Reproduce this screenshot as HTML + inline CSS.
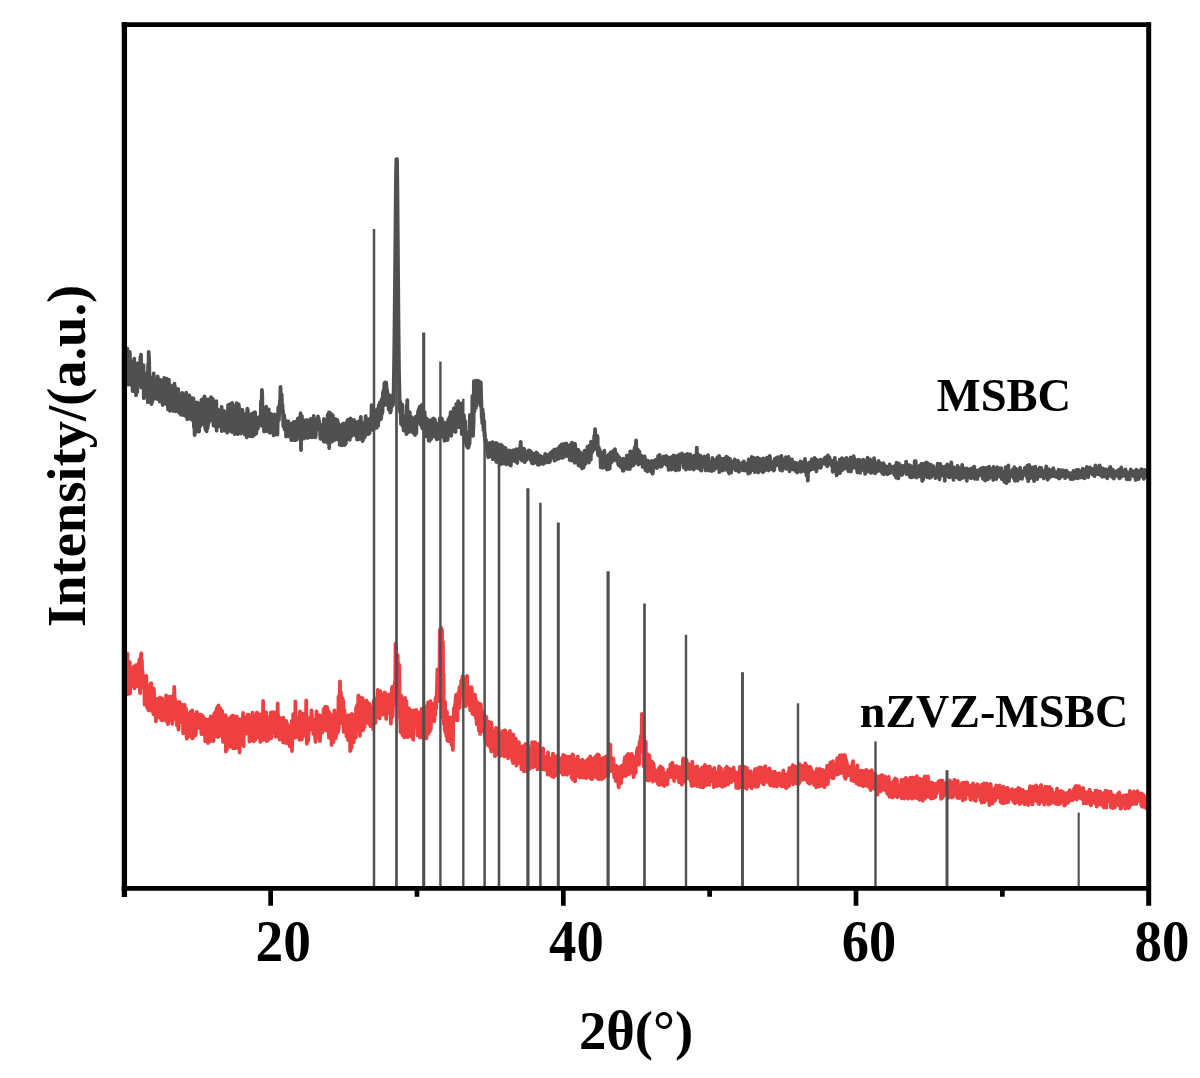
<!DOCTYPE html>
<html lang="en"><head><meta charset="utf-8"><title>XRD patterns of MSBC and nZVZ-MSBC</title>
<style>html,body{margin:0;padding:0;background:#fff}svg{display:block}</style></head>
<body>
<svg width="1200" height="1078" viewBox="0 0 1200 1078">
<rect width="1200" height="1078" fill="#fff"/>
<polyline fill="none" stroke="#ee4040" stroke-width="3.8" stroke-linejoin="round" stroke-linecap="round" points="125.8,655.3 126.1,656.0 126.4,691.7 126.7,692.4 127.0,671.1 127.4,653.7 127.7,694.0 128.0,666.7 128.3,678.4 128.6,681.7 128.9,693.4 129.2,684.2 129.5,681.2 129.8,662.2 130.1,693.5 130.5,673.6 130.8,683.4 131.1,682.7 131.4,685.0 131.7,669.4 132.0,668.8 132.3,678.5 132.6,686.1 132.9,674.7 133.2,670.6 133.6,670.8 133.9,666.5 134.2,684.6 134.5,688.4 134.8,678.9 135.1,668.4 135.4,675.2 135.7,678.6 136.0,665.2 136.3,670.2 136.7,677.0 137.0,686.0 137.3,666.2 137.6,673.3 137.9,681.8 138.2,664.2 138.5,682.5 138.8,663.2 139.1,666.3 139.4,659.5 139.8,689.1 140.1,693.1 140.4,673.6 140.7,665.2 141.0,654.6 141.3,653.4 141.6,687.4 141.9,660.4 142.2,678.0 142.5,671.1 142.9,676.0 143.2,683.8 143.5,687.5 143.8,685.3 144.1,676.7 144.4,694.0 144.7,704.6 145.0,693.5 145.3,679.4 145.6,700.4 146.0,686.6 146.3,675.9 146.6,702.4 146.9,695.7 147.2,707.8 147.5,690.9 147.8,695.0 148.1,694.0 148.4,710.0 148.7,693.1 149.1,693.0 149.4,696.3 149.7,710.5 150.0,709.0 150.3,684.0 150.6,689.8 150.9,699.6 151.2,683.2 151.5,699.4 151.8,709.9 152.2,710.9 152.5,691.7 152.8,693.2 153.1,711.6 153.4,714.3 153.7,688.5 154.0,691.5 154.3,700.6 154.6,704.7 154.9,710.7 155.3,705.6 155.6,699.7 155.9,721.3 156.2,702.7 156.5,707.4 156.8,698.8 157.1,717.6 157.4,700.2 157.7,705.5 158.0,704.3 158.4,716.5 158.7,705.1 159.0,711.2 159.3,701.2 159.6,717.1 159.9,697.5 160.2,699.3 160.5,716.2 160.8,706.6 161.1,719.8 161.5,707.0 161.8,709.5 162.1,698.5 162.4,720.4 162.7,715.1 163.0,715.7 163.3,704.1 163.6,709.4 163.9,706.8 164.2,710.2 164.6,712.5 164.9,707.4 165.2,719.9 165.5,705.8 165.8,710.3 166.1,695.4 166.4,709.5 166.7,697.8 167.0,721.8 167.3,718.8 167.7,706.5 168.0,724.2 168.3,718.6 168.6,697.0 168.9,711.0 169.2,704.8 169.5,712.0 169.8,714.1 170.1,714.5 170.4,703.5 170.8,696.4 171.1,717.8 171.4,698.2 171.7,713.2 172.0,720.4 172.3,723.9 172.6,714.1 172.9,698.8 173.2,719.4 173.5,700.0 173.9,714.1 174.2,686.8 174.5,696.1 174.8,708.1 175.1,699.3 175.4,715.9 175.7,718.2 176.0,705.5 176.3,717.1 176.6,714.8 177.0,725.7 177.3,704.4 177.6,702.3 177.9,708.3 178.2,712.5 178.5,729.7 178.8,721.5 179.1,714.6 179.4,702.0 179.7,716.6 180.1,720.7 180.4,708.4 180.7,708.3 181.0,721.8 181.3,706.5 181.6,716.2 181.9,714.9 182.2,704.6 182.5,713.9 182.8,710.0 183.2,733.3 183.5,726.2 183.8,718.8 184.1,706.3 184.4,720.2 184.7,704.9 185.0,726.6 185.3,712.8 185.6,718.3 185.9,708.5 186.3,715.3 186.6,736.8 186.9,738.7 187.2,735.4 187.5,727.1 187.8,720.9 188.1,730.5 188.4,723.7 188.7,716.3 189.0,714.1 189.4,719.1 189.7,720.0 190.0,731.6 190.3,712.0 190.6,736.7 190.9,731.2 191.2,721.7 191.5,717.0 191.8,729.3 192.1,710.5 192.5,738.4 192.8,713.2 193.1,731.6 193.4,737.1 193.7,735.0 194.0,714.8 194.3,725.2 194.6,721.8 194.9,733.9 195.2,730.4 195.6,735.2 195.9,730.9 196.2,723.6 196.5,720.3 196.8,711.8 197.1,713.6 197.4,714.2 197.7,713.7 198.0,728.2 198.3,726.4 198.7,719.0 199.0,721.1 199.3,715.4 199.6,719.8 199.9,720.3 200.2,718.7 200.5,714.7 200.8,719.7 201.1,721.4 201.4,734.0 201.8,729.4 202.1,715.5 202.4,734.1 202.7,724.5 203.0,721.1 203.3,716.8 203.6,733.5 203.9,726.9 204.2,732.0 204.5,727.7 204.9,718.8 205.2,741.3 205.5,732.6 205.8,740.6 206.1,719.3 206.4,719.7 206.7,728.5 207.0,724.2 207.3,728.7 207.6,720.5 208.0,743.0 208.3,729.9 208.6,734.1 208.9,740.7 209.2,719.3 209.5,728.7 209.8,735.7 210.1,741.3 210.4,721.1 210.7,716.3 211.1,725.0 211.4,719.3 211.7,717.5 212.0,717.4 212.3,735.4 212.6,727.4 212.9,718.5 213.2,730.6 213.5,741.2 213.8,735.4 214.2,713.7 214.5,723.7 214.8,712.9 215.1,717.6 215.4,715.1 215.7,711.4 216.0,732.9 216.3,736.1 216.6,724.5 216.9,708.1 217.3,709.8 217.6,706.9 217.9,737.0 218.2,719.1 218.5,705.5 218.8,728.0 219.1,713.2 219.4,735.9 219.7,711.5 220.0,708.0 220.4,709.1 220.7,711.2 221.0,735.0 221.3,734.1 221.6,730.6 221.9,710.7 222.2,711.4 222.5,727.1 222.8,732.4 223.1,741.9 223.5,726.0 223.8,720.1 224.1,725.8 224.4,734.9 224.7,726.2 225.0,722.2 225.3,730.4 225.6,715.1 225.9,751.6 226.2,719.7 226.6,744.8 226.9,749.9 227.2,718.1 227.5,739.3 227.8,723.7 228.1,742.9 228.4,722.4 228.7,738.1 229.0,737.6 229.3,734.8 229.7,729.4 230.0,746.8 230.3,722.5 230.6,737.8 230.9,717.0 231.2,723.6 231.5,743.7 231.8,717.9 232.1,743.8 232.4,715.6 232.8,722.8 233.1,748.2 233.4,716.0 233.7,731.0 234.0,723.5 234.3,741.1 234.6,717.9 234.9,717.9 235.2,730.2 235.5,748.1 235.9,719.5 236.2,729.3 236.5,718.9 236.8,716.4 237.1,737.6 237.4,747.7 237.7,735.5 238.0,733.0 238.3,726.0 238.6,739.7 239.0,740.2 239.3,741.4 239.6,752.4 239.9,719.1 240.2,732.8 240.5,722.2 240.8,721.1 241.1,741.5 241.4,731.9 241.7,729.0 242.1,742.7 242.4,723.2 242.7,738.3 243.0,713.0 243.3,723.5 243.6,746.0 243.9,716.8 244.2,723.0 244.5,728.5 244.8,723.1 245.2,732.6 245.5,723.2 245.8,733.8 246.1,726.5 246.4,724.1 246.7,718.9 247.0,730.1 247.3,729.0 247.6,714.7 247.9,718.0 248.3,725.0 248.6,714.7 248.9,718.1 249.2,730.9 249.5,741.7 249.8,728.7 250.1,734.9 250.4,726.8 250.7,724.0 251.0,720.2 251.4,717.8 251.7,740.0 252.0,738.6 252.3,719.7 252.6,712.6 252.9,722.5 253.2,715.5 253.5,725.2 253.8,741.3 254.1,718.9 254.5,726.9 254.8,725.8 255.1,715.8 255.4,739.8 255.7,737.0 256.0,717.5 256.3,735.1 256.6,727.3 256.9,712.5 257.2,731.7 257.6,737.2 257.9,728.9 258.2,717.1 258.5,727.9 258.8,731.4 259.1,714.5 259.4,720.7 259.7,723.6 260.0,722.6 260.3,741.9 260.7,729.0 261.0,725.7 261.3,714.1 261.6,740.5 261.9,729.8 262.2,722.9 262.5,730.8 262.8,739.9 263.1,701.0 263.4,729.2 263.8,716.6 264.1,717.8 264.4,712.3 264.7,712.0 265.0,721.9 265.3,716.3 265.6,723.3 265.9,716.2 266.2,712.5 266.5,741.0 266.9,740.5 267.2,740.7 267.5,735.5 267.8,721.3 268.1,733.3 268.4,739.9 268.7,738.4 269.0,731.4 269.3,717.0 269.6,728.5 270.0,720.2 270.3,738.0 270.6,722.4 270.9,712.5 271.2,730.1 271.5,738.2 271.8,730.6 272.1,718.0 272.4,718.2 272.7,714.2 273.1,726.3 273.4,712.2 273.7,732.3 274.0,723.8 274.3,722.8 274.6,732.4 274.9,731.4 275.2,730.3 275.5,721.7 275.8,736.8 276.2,712.5 276.5,720.5 276.8,731.2 277.1,733.5 277.4,725.1 277.7,703.3 278.0,732.7 278.3,715.1 278.6,724.1 278.9,736.4 279.3,731.7 279.6,739.7 279.9,726.9 280.2,734.1 280.5,730.9 280.8,718.2 281.1,718.9 281.4,724.9 281.7,726.0 282.0,731.5 282.4,728.5 282.7,721.2 283.0,742.3 283.3,717.6 283.6,736.9 283.9,722.2 284.2,742.0 284.5,734.9 284.8,725.5 285.1,742.7 285.5,742.9 285.8,727.2 286.1,721.0 286.4,734.1 286.7,730.3 287.0,722.8 287.3,738.9 287.6,743.0 287.9,726.6 288.2,736.5 288.6,738.5 288.9,725.8 289.2,735.6 289.5,735.2 289.8,746.3 290.1,733.6 290.4,740.6 290.7,735.4 291.0,728.4 291.3,743.8 291.7,721.0 292.0,751.0 292.3,721.7 292.6,735.7 292.9,736.0 293.2,714.2 293.5,732.4 293.8,722.2 294.1,728.7 294.4,735.8 294.8,733.8 295.1,737.8 295.4,701.3 295.7,726.5 296.0,723.9 296.3,737.2 296.6,723.3 296.9,727.8 297.2,722.9 297.5,721.9 297.9,724.2 298.2,726.3 298.5,730.6 298.8,717.8 299.1,730.9 299.4,739.8 299.7,719.1 300.0,711.4 300.3,728.3 300.6,732.5 301.0,721.0 301.3,722.0 301.6,725.3 301.9,739.5 302.2,714.2 302.5,727.7 302.8,713.7 303.1,722.2 303.4,735.8 303.7,721.4 304.1,725.0 304.4,716.7 304.7,732.8 305.0,733.5 305.3,718.4 305.6,727.0 305.9,735.7 306.2,700.5 306.5,722.5 306.8,743.7 307.2,740.4 307.5,723.8 307.8,731.5 308.1,740.8 308.4,737.1 308.7,731.5 309.0,727.8 309.3,718.2 309.6,718.8 309.9,718.6 310.3,724.4 310.6,729.5 310.9,716.5 311.2,719.6 311.5,710.3 311.8,715.8 312.1,728.4 312.4,724.8 312.7,726.7 313.0,723.9 313.4,733.9 313.7,722.2 314.0,727.5 314.3,734.7 314.6,734.6 314.9,719.3 315.2,738.9 315.5,741.9 315.8,718.8 316.1,725.3 316.5,711.3 316.8,737.6 317.1,720.8 317.4,726.9 317.7,732.7 318.0,724.4 318.3,737.4 318.6,726.1 318.9,731.3 319.2,723.6 319.6,715.2 319.9,741.2 320.2,735.1 320.5,733.1 320.8,727.7 321.1,729.3 321.4,722.8 321.7,721.4 322.0,716.4 322.3,732.4 322.7,730.4 323.0,718.0 323.3,719.2 323.6,709.2 323.9,727.4 324.2,715.2 324.5,710.4 324.8,709.5 325.1,707.0 325.4,715.9 325.8,710.1 326.1,707.2 326.4,730.5 326.7,723.5 327.0,707.0 327.3,709.6 327.6,727.0 327.9,726.6 328.2,730.7 328.5,711.1 328.9,737.6 329.2,734.3 329.5,719.0 329.8,713.1 330.1,724.5 330.4,715.8 330.7,719.8 331.0,730.5 331.3,732.5 331.6,744.9 332.0,715.4 332.3,727.8 332.6,737.0 332.9,736.8 333.2,722.2 333.5,742.0 333.8,728.2 334.1,737.5 334.4,710.4 334.7,716.1 335.1,725.5 335.4,715.7 335.7,738.4 336.0,732.4 336.3,724.1 336.6,720.0 336.9,733.5 337.2,726.4 337.5,713.3 337.8,732.3 338.2,731.4 338.5,696.6 338.8,728.5 339.1,700.0 339.4,694.8 339.7,713.9 340.0,681.3 340.3,716.7 340.6,691.1 340.9,693.8 341.3,704.7 341.6,696.9 341.9,710.7 342.2,723.2 342.5,698.1 342.8,704.4 343.1,700.4 343.4,705.5 343.7,731.9 344.0,711.6 344.4,710.1 344.7,715.3 345.0,728.2 345.3,725.7 345.6,719.2 345.9,716.2 346.2,726.4 346.5,736.1 346.8,716.3 347.1,734.5 347.5,724.8 347.8,730.0 348.1,740.1 348.4,715.2 348.7,735.5 349.0,733.5 349.3,724.1 349.6,734.0 349.9,719.9 350.2,751.0 350.6,749.6 350.9,738.4 351.2,730.5 351.5,747.7 351.8,713.8 352.1,742.2 352.4,728.9 352.7,716.0 353.0,724.4 353.3,730.3 353.7,742.3 354.0,737.0 354.3,721.2 354.6,714.8 354.9,718.3 355.2,734.2 355.5,726.7 355.8,737.7 356.1,707.5 356.4,731.1 356.8,726.5 357.1,704.9 357.4,720.5 357.7,728.1 358.0,726.8 358.3,695.5 358.6,716.8 358.9,703.4 359.2,721.9 359.5,715.4 359.9,735.8 360.2,697.5 360.5,731.7 360.8,700.7 361.1,701.5 361.4,730.0 361.7,717.2 362.0,705.0 362.3,704.9 362.6,698.1 363.0,725.6 363.3,730.0 363.6,702.9 363.9,702.8 364.2,719.3 364.5,727.0 364.8,718.2 365.1,714.2 365.4,708.2 365.7,722.9 366.1,700.7 366.4,700.6 366.7,710.4 367.0,720.1 367.3,702.1 367.6,711.8 367.9,722.5 368.2,705.9 368.5,710.5 368.8,714.7 369.2,724.2 369.5,703.9 369.8,706.7 370.1,720.8 370.4,726.1 370.7,723.0 371.0,717.0 371.3,723.1 371.6,722.8 371.9,707.8 372.3,722.6 372.6,720.1 372.9,719.2 373.2,729.1 373.5,707.6 373.8,700.6 374.1,713.0 374.4,707.7 374.7,704.9 375.0,699.2 375.4,722.9 375.7,717.3 376.0,706.0 376.3,703.2 376.6,703.9 376.9,717.2 377.2,697.5 377.5,701.8 377.8,689.8 378.1,694.4 378.5,697.9 378.8,708.9 379.1,698.4 379.4,717.0 379.7,718.4 380.0,694.2 380.3,691.1 380.6,703.5 380.9,701.3 381.2,713.7 381.6,700.8 381.9,708.9 382.2,714.5 382.5,699.6 382.8,713.9 383.1,698.8 383.4,712.9 383.7,693.8 384.0,714.2 384.3,702.9 384.7,692.3 385.0,693.4 385.3,715.6 385.6,695.7 385.9,694.4 386.2,718.9 386.5,694.1 386.8,702.7 387.1,713.2 387.4,700.0 387.8,703.1 388.1,702.1 388.4,713.4 388.7,707.5 389.0,705.6 389.3,694.3 389.6,713.7 389.9,700.4 390.2,703.8 390.5,707.4 390.9,723.6 391.2,714.7 391.5,693.0 391.8,693.4 392.1,686.9 392.4,699.7 392.7,716.5 393.0,700.8 393.3,705.3 393.6,705.1 394.0,686.0 394.3,689.4 394.6,695.5 394.9,681.7 395.2,700.6 395.5,643.7 395.8,658.4 396.1,679.7 396.4,691.1 396.7,696.0 397.1,683.8 397.4,655.9 397.7,655.3 398.0,695.2 398.3,663.5 398.6,677.5 398.9,677.2 399.2,665.0 399.5,688.3 399.8,717.7 400.2,715.9 400.5,732.0 400.8,731.4 401.1,730.8 401.4,695.6 401.7,706.4 402.0,726.9 402.3,724.4 402.6,735.1 402.9,702.0 403.3,702.0 403.6,731.1 403.9,724.1 404.2,737.4 404.5,704.4 404.8,716.7 405.1,698.0 405.4,717.2 405.7,716.6 406.0,736.5 406.4,701.4 406.7,730.0 407.0,713.5 407.3,735.8 407.6,710.3 407.9,737.0 408.2,733.5 408.5,731.1 408.8,733.1 409.1,708.3 409.5,717.2 409.8,724.6 410.1,728.6 410.4,723.7 410.7,723.6 411.0,728.8 411.3,729.4 411.6,736.9 411.9,734.0 412.2,710.7 412.6,722.9 412.9,726.2 413.2,739.7 413.5,710.5 413.8,717.5 414.1,714.4 414.4,716.0 414.7,715.4 415.0,726.3 415.3,715.0 415.7,716.3 416.0,715.1 416.3,710.0 416.6,715.9 416.9,727.4 417.2,720.4 417.5,735.3 417.8,713.4 418.1,712.4 418.4,721.9 418.8,724.7 419.1,734.5 419.4,720.7 419.7,721.7 420.0,737.5 420.3,714.3 420.6,723.5 420.9,727.0 421.2,714.5 421.5,708.8 421.9,710.8 422.2,737.0 422.5,729.4 422.8,735.9 423.1,723.4 423.4,718.9 423.7,709.9 424.0,709.7 424.3,725.5 424.6,706.9 425.0,707.2 425.3,719.5 425.6,710.9 425.9,734.8 426.2,735.6 426.5,738.3 426.8,726.3 427.1,715.8 427.4,705.0 427.7,718.7 428.1,702.4 428.4,733.7 428.7,705.1 429.0,726.0 429.3,723.9 429.6,710.1 429.9,731.6 430.2,708.1 430.5,701.2 430.8,729.2 431.2,712.1 431.5,721.3 431.8,704.9 432.1,703.5 432.4,713.6 432.7,713.0 433.0,712.0 433.3,710.2 433.6,716.0 433.9,715.2 434.3,721.3 434.6,705.5 434.9,707.7 435.2,715.4 435.5,698.2 435.8,706.3 436.1,708.7 436.4,695.8 436.7,697.8 437.0,686.6 437.4,669.5 437.7,689.5 438.0,681.0 438.3,684.0 438.6,669.2 438.9,701.1 439.2,689.5 439.5,691.9 439.8,631.9 440.1,629.5 440.5,701.4 440.8,680.3 441.1,627.8 441.4,696.2 441.7,633.8 442.0,630.0 442.3,717.3 442.6,705.1 442.9,641.8 443.2,708.0 443.6,674.0 443.9,723.9 444.2,712.1 444.5,719.5 444.8,730.4 445.1,701.8 445.4,732.5 445.7,713.8 446.0,715.4 446.3,735.3 446.7,736.7 447.0,711.9 447.3,740.4 447.6,737.0 447.9,726.3 448.2,718.0 448.5,741.2 448.8,732.9 449.1,738.9 449.4,738.2 449.8,740.2 450.1,737.2 450.4,717.5 450.7,718.2 451.0,735.7 451.3,742.4 451.6,744.7 451.9,740.3 452.2,718.6 452.5,733.2 452.9,749.9 453.2,723.6 453.5,718.7 453.8,710.3 454.1,708.0 454.4,719.3 454.7,719.9 455.0,704.2 455.3,717.7 455.6,699.6 456.0,694.8 456.3,706.6 456.6,694.6 456.9,703.6 457.2,696.8 457.5,720.3 457.8,707.7 458.1,698.0 458.4,692.6 458.7,705.1 459.1,700.9 459.4,687.2 459.7,707.5 460.0,697.2 460.3,689.5 460.6,696.2 460.9,690.1 461.2,680.9 461.5,685.9 461.8,693.9 462.2,683.4 462.5,676.3 462.8,685.4 463.1,689.3 463.4,682.4 463.7,691.9 464.0,696.0 464.3,695.5 464.6,677.6 464.9,692.2 465.3,680.5 465.6,706.2 465.9,691.5 466.2,691.5 466.5,677.0 466.8,676.9 467.1,676.0 467.4,698.7 467.7,700.5 468.0,688.3 468.4,690.4 468.7,687.2 469.0,687.8 469.3,701.7 469.6,706.1 469.9,693.3 470.2,710.2 470.5,691.5 470.8,707.7 471.1,691.8 471.5,687.2 471.8,689.2 472.1,700.5 472.4,713.6 472.7,706.0 473.0,704.7 473.3,714.1 473.6,703.8 473.9,712.3 474.2,696.8 474.6,714.9 474.9,694.6 475.2,703.0 475.5,698.6 475.8,712.7 476.1,719.0 476.4,715.7 476.7,724.1 477.0,707.7 477.3,713.0 477.7,702.4 478.0,708.5 478.3,704.8 478.6,704.8 478.9,730.5 479.2,706.9 479.5,704.0 479.8,719.1 480.1,733.9 480.4,703.9 480.8,704.2 481.1,714.7 481.4,715.4 481.7,714.6 482.0,711.4 482.3,731.0 482.6,716.2 482.9,715.1 483.2,716.5 483.5,731.5 483.9,728.4 484.2,719.4 484.5,733.7 484.8,715.6 485.1,739.7 485.4,724.1 485.7,727.2 486.0,720.7 486.3,716.9 486.6,743.5 487.0,728.0 487.3,733.1 487.6,728.4 487.9,745.2 488.2,721.3 488.5,740.9 488.8,729.4 489.1,736.8 489.4,741.0 489.7,741.6 490.1,746.8 490.4,736.8 490.7,749.0 491.0,722.5 491.3,751.5 491.6,724.0 491.9,749.4 492.2,730.3 492.5,748.8 492.8,732.6 493.2,738.6 493.5,749.9 493.8,738.7 494.1,745.3 494.4,740.7 494.7,730.7 495.0,756.2 495.3,735.7 495.6,746.5 495.9,728.0 496.3,747.1 496.6,752.4 496.9,740.4 497.2,754.4 497.5,745.5 497.8,741.9 498.1,732.0 498.4,728.3 498.7,743.1 499.0,746.0 499.4,739.7 499.7,735.4 500.0,746.2 500.3,739.2 500.6,755.8 500.9,753.7 501.2,735.8 501.5,741.7 501.8,751.6 502.1,740.1 502.5,731.1 502.8,754.2 503.1,740.2 503.4,735.2 503.7,736.9 504.0,735.3 504.3,756.4 504.6,730.4 504.9,752.3 505.2,730.4 505.6,743.4 505.9,754.6 506.2,746.1 506.5,733.1 506.8,747.2 507.1,748.7 507.4,750.2 507.7,748.2 508.0,758.3 508.3,745.7 508.7,744.4 509.0,737.4 509.3,733.5 509.6,754.0 509.9,730.9 510.2,744.4 510.5,753.0 510.8,755.4 511.1,753.3 511.4,751.7 511.8,749.3 512.1,760.1 512.4,753.7 512.7,750.2 513.0,763.0 513.3,734.5 513.6,757.2 513.9,740.5 514.2,746.0 514.5,751.5 514.9,758.9 515.2,753.8 515.5,762.7 515.8,738.6 516.1,748.0 516.4,765.5 516.7,764.8 517.0,757.4 517.3,746.4 517.6,761.4 518.0,756.6 518.3,762.4 518.6,751.4 518.9,742.2 519.2,762.9 519.5,748.3 519.8,746.9 520.1,758.1 520.4,753.2 520.7,754.9 521.1,752.0 521.4,769.2 521.7,747.9 522.0,769.2 522.3,769.3 522.6,746.1 522.9,761.0 523.2,746.4 523.5,756.3 523.8,771.3 524.2,746.2 524.5,748.7 524.8,757.7 525.1,745.0 525.4,744.1 525.7,758.3 526.0,751.2 526.3,749.9 526.6,748.7 526.9,771.1 527.3,744.0 527.6,749.6 527.9,745.2 528.2,746.6 528.5,749.7 528.8,761.4 529.1,758.5 529.4,769.0 529.7,760.2 530.0,758.7 530.3,750.0 530.7,765.3 531.0,766.1 531.3,765.2 531.6,761.5 531.9,758.7 532.2,742.2 532.5,764.2 532.8,767.4 533.1,759.1 533.4,756.5 533.8,752.0 534.1,746.2 534.4,765.0 534.7,747.9 535.0,742.1 535.3,766.3 535.6,755.1 535.9,751.1 536.2,761.4 536.5,761.8 536.9,764.1 537.2,750.2 537.5,769.3 537.8,768.4 538.1,744.0 538.4,758.0 538.7,747.8 539.0,768.4 539.3,762.9 539.6,750.1 540.0,749.5 540.3,764.5 540.6,753.9 540.9,754.2 541.2,759.7 541.5,767.4 541.8,761.1 542.1,759.8 542.4,756.7 542.7,769.3 543.1,748.4 543.4,767.2 543.7,759.6 544.0,756.4 544.3,761.8 544.6,769.7 544.9,762.7 545.2,769.6 545.5,757.9 545.8,769.5 546.2,762.9 546.5,757.0 546.8,768.7 547.1,767.3 547.4,764.8 547.7,774.7 548.0,752.5 548.3,756.7 548.6,762.0 548.9,760.5 549.3,759.6 549.6,767.1 549.9,763.9 550.2,762.8 550.5,761.0 550.8,770.7 551.1,773.9 551.4,776.0 551.7,759.0 552.0,757.9 552.4,766.6 552.7,764.7 553.0,753.7 553.3,759.5 553.6,777.0 553.9,759.4 554.2,758.2 554.5,762.2 554.8,763.8 555.1,775.4 555.5,756.3 555.8,765.4 556.1,756.9 556.4,773.8 556.7,762.9 557.0,773.9 557.3,775.5 557.6,761.5 557.9,755.3 558.2,762.0 558.6,771.0 558.9,763.0 559.2,762.3 559.5,772.6 559.8,768.3 560.1,760.1 560.4,759.2 560.7,769.7 561.0,763.3 561.3,765.2 561.7,766.1 562.0,760.3 562.3,757.1 562.6,761.2 562.9,774.7 563.2,754.9 563.5,773.5 563.8,756.6 564.1,755.3 564.4,769.8 564.8,760.2 565.1,774.1 565.4,758.4 565.7,761.0 566.0,774.4 566.3,756.5 566.6,757.2 566.9,760.3 567.2,774.8 567.5,765.7 567.9,757.1 568.2,767.6 568.5,760.0 568.8,765.7 569.1,770.9 569.4,756.7 569.7,770.3 570.0,772.0 570.3,766.1 570.6,771.1 571.0,774.2 571.3,758.6 571.6,777.8 571.9,776.4 572.2,759.8 572.5,754.4 572.8,765.0 573.1,779.7 573.4,755.5 573.7,762.8 574.1,763.4 574.4,758.8 574.7,760.8 575.0,781.4 575.3,771.1 575.6,770.0 575.9,760.4 576.2,774.2 576.5,767.1 576.8,759.1 577.2,759.7 577.5,775.5 577.8,756.5 578.1,773.5 578.4,769.4 578.7,772.0 579.0,776.9 579.3,767.4 579.6,775.2 579.9,777.5 580.3,761.0 580.6,771.0 580.9,763.5 581.2,765.6 581.5,763.5 581.8,764.4 582.1,770.1 582.4,759.6 582.7,770.0 583.0,777.6 583.4,763.3 583.7,769.3 584.0,763.0 584.3,777.6 584.6,761.3 584.9,762.6 585.2,765.8 585.5,775.7 585.8,766.8 586.1,774.5 586.5,778.0 586.8,776.8 587.1,764.0 587.4,759.7 587.7,769.7 588.0,765.2 588.3,758.9 588.6,771.1 588.9,758.9 589.2,776.8 589.6,773.4 589.9,773.2 590.2,756.4 590.5,760.0 590.8,778.5 591.1,764.9 591.4,758.3 591.7,779.1 592.0,767.8 592.3,778.9 592.7,762.9 593.0,761.5 593.3,775.3 593.6,761.1 593.9,775.6 594.2,769.0 594.5,770.5 594.8,774.3 595.1,756.9 595.4,758.7 595.8,766.1 596.1,777.5 596.4,768.2 596.7,755.4 597.0,766.5 597.3,762.3 597.6,754.3 597.9,766.4 598.2,754.9 598.5,779.1 598.9,755.0 599.2,776.0 599.5,772.9 599.8,769.6 600.1,776.5 600.4,766.7 600.7,758.9 601.0,760.8 601.3,776.9 601.6,779.2 602.0,763.5 602.3,761.1 602.6,770.9 602.9,758.4 603.2,778.3 603.5,768.2 603.8,757.7 604.1,775.6 604.4,769.7 604.7,777.0 605.1,767.9 605.4,766.7 605.7,771.4 606.0,756.5 606.3,758.4 606.6,760.6 606.9,773.6 607.2,759.8 607.5,769.6 607.8,775.9 608.2,775.4 608.5,765.6 608.8,768.2 609.1,757.1 609.4,756.9 609.7,749.1 610.0,745.2 610.3,744.6 610.6,771.0 610.9,757.7 611.3,759.1 611.6,769.5 611.9,766.8 612.2,766.4 612.5,762.2 612.8,770.6 613.1,767.1 613.4,758.4 613.7,763.3 614.0,773.8 614.4,777.5 614.7,767.4 615.0,771.4 615.3,765.6 615.6,777.7 615.9,781.2 616.2,770.2 616.5,765.8 616.8,768.2 617.1,779.6 617.5,769.5 617.8,774.2 618.1,780.5 618.4,783.6 618.7,787.4 619.0,781.8 619.3,768.3 619.6,767.1 619.9,777.7 620.2,780.1 620.6,782.3 620.9,769.8 621.2,783.1 621.5,770.0 621.8,765.7 622.1,766.3 622.4,776.6 622.7,770.3 623.0,768.3 623.3,774.1 623.7,766.1 624.0,774.7 624.3,761.0 624.6,764.8 624.9,757.3 625.2,760.1 625.5,771.9 625.8,776.0 626.1,770.1 626.4,758.7 626.8,755.3 627.1,768.1 627.4,770.3 627.7,759.7 628.0,760.8 628.3,753.8 628.6,774.3 628.9,768.7 629.2,770.8 629.5,758.4 629.9,773.1 630.2,761.4 630.5,770.1 630.8,763.4 631.1,755.4 631.4,772.6 631.7,753.8 632.0,765.4 632.3,762.4 632.6,772.0 633.0,764.0 633.3,756.5 633.6,777.2 633.9,770.3 634.2,768.9 634.5,774.2 634.8,772.0 635.1,767.9 635.4,760.2 635.7,772.8 636.1,759.8 636.4,765.1 636.7,759.7 637.0,750.1 637.3,750.5 637.6,748.1 637.9,755.9 638.2,758.7 638.5,747.3 638.8,759.1 639.2,764.7 639.5,742.2 639.8,753.7 640.1,740.5 640.4,750.1 640.7,736.1 641.0,745.8 641.3,746.9 641.6,737.4 641.9,713.8 642.3,746.2 642.6,740.9 642.9,721.9 643.2,747.9 643.5,735.9 643.8,766.0 644.1,759.3 644.4,759.7 644.7,757.6 645.0,753.3 645.4,750.7 645.7,741.7 646.0,765.8 646.3,754.2 646.6,780.1 646.9,755.6 647.2,757.3 647.5,754.1 647.8,763.2 648.1,758.9 648.5,758.8 648.8,780.6 649.1,775.7 649.4,755.5 649.7,777.7 650.0,760.1 650.3,777.5 650.6,767.7 650.9,769.8 651.2,776.0 651.6,779.8 651.9,763.2 652.2,761.8 652.5,766.0 652.8,781.5 653.1,763.2 653.4,766.4 653.7,764.3 654.0,769.8 654.3,769.8 654.7,771.5 655.0,779.2 655.3,778.3 655.6,779.4 655.9,779.6 656.2,777.2 656.5,781.1 656.8,772.6 657.1,778.9 657.4,772.8 657.8,770.0 658.1,784.2 658.4,770.1 658.7,777.8 659.0,768.5 659.3,784.9 659.6,768.6 659.9,773.9 660.2,766.3 660.5,774.9 660.9,784.0 661.2,775.5 661.5,767.6 661.8,767.5 662.1,769.9 662.4,769.8 662.7,768.3 663.0,769.8 663.3,785.1 663.6,782.0 664.0,781.3 664.3,786.0 664.6,779.8 664.9,780.7 665.2,779.9 665.5,777.4 665.8,773.5 666.1,784.5 666.4,777.4 666.7,780.7 667.1,772.6 667.4,784.4 667.7,778.8 668.0,770.1 668.3,770.7 668.6,770.1 668.9,771.5 669.2,769.4 669.5,773.8 669.8,768.5 670.2,773.0 670.5,764.4 670.8,767.7 671.1,777.0 671.4,769.8 671.7,769.2 672.0,775.3 672.3,762.6 672.6,766.4 672.9,766.8 673.3,776.6 673.6,775.9 673.9,776.5 674.2,781.0 674.5,770.5 674.8,776.6 675.1,770.2 675.4,777.8 675.7,766.1 676.0,776.5 676.4,766.0 676.7,769.1 677.0,773.6 677.3,767.5 677.6,776.1 677.9,775.8 678.2,767.2 678.5,778.2 678.8,777.9 679.1,782.4 679.5,767.1 679.8,773.7 680.1,778.0 680.4,779.1 680.7,781.9 681.0,775.5 681.3,777.6 681.6,767.1 681.9,784.6 682.2,778.2 682.6,775.9 682.9,761.1 683.2,758.4 683.5,780.8 683.8,779.2 684.1,780.7 684.4,773.7 684.7,766.9 685.0,781.7 685.3,765.0 685.7,762.9 686.0,768.7 686.3,770.2 686.6,759.8 686.9,766.2 687.2,776.3 687.5,776.4 687.8,768.6 688.1,777.9 688.4,763.9 688.8,778.7 689.1,767.3 689.4,770.0 689.7,775.7 690.0,775.1 690.3,770.8 690.6,770.8 690.9,781.6 691.2,769.7 691.5,785.6 691.9,786.0 692.2,761.7 692.5,783.8 692.8,778.2 693.1,784.4 693.4,770.3 693.7,774.4 694.0,781.4 694.3,785.5 694.6,772.0 695.0,767.4 695.3,776.4 695.6,780.1 695.9,766.9 696.2,767.8 696.5,768.7 696.8,767.1 697.1,782.5 697.4,766.4 697.7,786.1 698.1,772.4 698.4,774.9 698.7,774.8 699.0,773.5 699.3,779.7 699.6,773.7 699.9,770.2 700.2,784.9 700.5,787.1 700.8,774.1 701.2,780.0 701.5,771.2 701.8,776.0 702.1,767.3 702.4,785.1 702.7,774.0 703.0,782.5 703.3,787.3 703.6,768.3 703.9,778.2 704.3,778.8 704.6,768.1 704.9,764.9 705.2,773.2 705.5,771.7 705.8,770.4 706.1,777.0 706.4,785.2 706.7,777.0 707.0,771.1 707.4,766.9 707.7,783.1 708.0,771.1 708.3,777.8 708.6,772.1 708.9,773.2 709.2,784.8 709.5,778.9 709.8,766.4 710.1,775.0 710.5,780.5 710.8,770.3 711.1,769.6 711.4,781.3 711.7,781.1 712.0,778.2 712.3,779.9 712.6,771.7 712.9,775.3 713.2,775.5 713.6,778.3 713.9,787.1 714.2,768.0 714.5,771.7 714.8,771.0 715.1,776.2 715.4,777.2 715.7,772.7 716.0,773.6 716.3,784.5 716.7,786.1 717.0,778.1 717.3,776.3 717.6,780.0 717.9,772.3 718.2,785.3 718.5,784.2 718.8,772.2 719.1,766.4 719.4,783.8 719.8,773.5 720.1,775.5 720.4,784.6 720.7,785.9 721.0,768.4 721.3,784.0 721.6,777.3 721.9,784.5 722.2,776.3 722.5,786.8 722.9,776.2 723.2,779.3 723.5,777.8 723.8,785.0 724.1,776.5 724.4,785.8 724.7,782.7 725.0,770.0 725.3,768.8 725.6,778.1 726.0,783.8 726.3,784.7 726.6,768.7 726.9,766.6 727.2,772.2 727.5,777.6 727.8,777.5 728.1,784.4 728.4,782.3 728.7,781.7 729.1,774.9 729.4,780.8 729.7,769.0 730.0,777.5 730.3,778.1 730.6,774.6 730.9,774.1 731.2,782.2 731.5,778.4 731.8,770.3 732.2,772.1 732.5,770.1 732.8,769.2 733.1,780.7 733.4,774.4 733.7,767.7 734.0,780.4 734.3,771.8 734.6,773.0 734.9,771.7 735.3,773.5 735.6,772.4 735.9,772.5 736.2,787.8 736.5,783.7 736.8,786.6 737.1,780.0 737.4,773.5 737.7,774.6 738.0,774.6 738.4,788.2 738.7,780.3 739.0,771.8 739.3,785.2 739.6,772.7 739.9,766.9 740.2,784.9 740.5,786.8 740.8,767.2 741.1,772.6 741.5,787.3 741.8,766.2 742.1,769.4 742.4,766.0 742.7,773.5 743.0,775.1 743.3,775.6 743.6,769.8 743.9,767.9 744.2,775.5 744.6,767.0 744.9,787.7 745.2,776.7 745.5,769.0 745.8,783.7 746.1,782.1 746.4,779.3 746.7,788.8 747.0,767.8 747.3,776.7 747.7,778.7 748.0,786.4 748.3,782.7 748.6,784.2 748.9,772.0 749.2,774.6 749.5,772.3 749.8,774.2 750.1,780.5 750.4,771.1 750.8,786.3 751.1,782.9 751.4,785.7 751.7,788.2 752.0,785.7 752.3,784.3 752.6,777.5 752.9,784.2 753.2,778.5 753.5,783.7 753.9,775.8 754.2,775.9 754.5,770.5 754.8,770.3 755.1,769.1 755.4,783.8 755.7,786.8 756.0,774.7 756.3,785.3 756.6,768.8 757.0,775.4 757.3,778.3 757.6,778.2 757.9,786.6 758.2,784.1 758.5,774.2 758.8,780.5 759.1,767.5 759.4,770.1 759.7,773.0 760.1,768.9 760.4,774.5 760.7,773.2 761.0,767.4 761.3,771.5 761.6,780.8 761.9,782.7 762.2,772.8 762.5,783.1 762.8,776.3 763.2,768.2 763.5,773.4 763.8,784.4 764.1,773.2 764.4,772.1 764.7,780.9 765.0,780.2 765.3,766.2 765.6,780.2 765.9,773.5 766.3,777.2 766.6,780.3 766.9,781.6 767.2,769.4 767.5,779.9 767.8,782.1 768.1,781.9 768.4,774.3 768.7,771.4 769.0,777.7 769.4,781.9 769.7,768.5 770.0,784.7 770.3,785.3 770.6,780.0 770.9,772.7 771.2,783.6 771.5,773.5 771.8,778.0 772.1,772.0 772.5,779.3 772.8,773.6 773.1,779.2 773.4,772.3 773.7,786.2 774.0,777.7 774.3,783.5 774.6,774.8 774.9,771.7 775.2,782.7 775.6,779.9 775.9,775.6 776.2,784.9 776.5,786.0 776.8,786.5 777.1,773.8 777.4,775.5 777.7,776.1 778.0,782.0 778.3,784.1 778.7,784.4 779.0,776.7 779.3,773.2 779.6,777.6 779.9,784.1 780.2,782.0 780.5,781.7 780.8,774.8 781.1,785.8 781.4,784.7 781.8,786.3 782.1,774.9 782.4,775.7 782.7,784.4 783.0,786.2 783.3,770.4 783.6,777.1 783.9,780.9 784.2,779.1 784.5,782.6 784.9,776.6 785.2,784.8 785.5,776.7 785.8,787.5 786.1,788.1 786.4,774.3 786.7,787.7 787.0,775.0 787.3,779.7 787.6,773.9 788.0,779.4 788.3,777.5 788.6,786.0 788.9,771.0 789.2,785.7 789.5,767.8 789.8,783.4 790.1,778.6 790.4,778.4 790.7,769.0 791.1,774.6 791.4,771.6 791.7,772.1 792.0,768.0 792.3,779.9 792.6,766.6 792.9,765.0 793.2,784.3 793.5,780.1 793.8,778.0 794.2,768.3 794.5,783.2 794.8,770.7 795.1,766.3 795.4,775.0 795.7,773.5 796.0,782.8 796.3,767.1 796.6,781.7 796.9,770.9 797.3,776.8 797.6,778.2 797.9,784.5 798.2,778.0 798.5,779.3 798.8,783.9 799.1,770.1 799.4,764.1 799.7,782.2 800.0,772.4 800.4,765.2 800.7,773.8 801.0,767.6 801.3,768.5 801.6,770.9 801.9,777.9 802.2,768.5 802.5,766.1 802.8,779.7 803.1,770.5 803.5,771.8 803.8,769.7 804.1,778.8 804.4,765.6 804.7,770.6 805.0,773.8 805.3,763.5 805.6,779.5 805.9,765.9 806.2,776.0 806.6,765.6 806.9,768.4 807.2,776.9 807.5,771.1 807.8,782.5 808.1,768.8 808.4,777.1 808.7,767.8 809.0,770.6 809.3,771.5 809.7,783.8 810.0,766.7 810.3,774.4 810.6,767.4 810.9,774.3 811.2,775.0 811.5,769.8 811.8,782.7 812.1,772.9 812.4,777.1 812.8,781.2 813.1,778.9 813.4,772.1 813.7,772.3 814.0,784.8 814.3,774.0 814.6,784.4 814.9,774.0 815.2,782.8 815.5,777.9 815.9,782.2 816.2,787.3 816.5,786.3 816.8,769.0 817.1,783.4 817.4,784.3 817.7,770.1 818.0,781.7 818.3,776.8 818.6,786.5 819.0,776.5 819.3,782.3 819.6,773.1 819.9,768.8 820.2,785.9 820.5,770.7 820.8,773.1 821.1,783.7 821.4,782.3 821.7,775.7 822.1,778.8 822.4,780.8 822.7,770.0 823.0,785.6 823.3,775.9 823.6,776.1 823.9,779.3 824.2,784.5 824.5,787.2 824.8,779.7 825.2,777.8 825.5,778.6 825.8,770.7 826.1,784.2 826.4,774.2 826.7,769.4 827.0,768.0 827.3,765.6 827.6,769.1 827.9,784.2 828.3,774.4 828.6,772.1 828.9,770.8 829.2,772.9 829.5,765.6 829.8,770.4 830.1,769.5 830.4,762.3 830.7,770.0 831.0,772.3 831.4,769.8 831.7,767.6 832.0,778.0 832.3,769.5 832.6,776.3 832.9,761.1 833.2,778.2 833.5,778.1 833.8,774.3 834.1,771.7 834.5,765.5 834.8,769.3 835.1,774.8 835.4,765.1 835.7,768.8 836.0,767.6 836.3,767.6 836.6,774.7 836.9,763.4 837.2,758.2 837.6,759.7 837.9,774.4 838.2,758.2 838.5,762.9 838.8,758.7 839.1,773.4 839.4,766.9 839.7,755.4 840.0,757.8 840.3,772.3 840.7,759.0 841.0,765.0 841.3,772.9 841.6,755.2 841.9,755.3 842.2,769.4 842.5,758.6 842.8,758.3 843.1,770.9 843.4,769.3 843.8,763.4 844.1,769.4 844.4,776.4 844.7,755.0 845.0,778.1 845.3,756.5 845.6,778.8 845.9,765.6 846.2,760.0 846.5,767.2 846.9,762.7 847.2,772.0 847.5,768.4 847.8,775.6 848.1,772.8 848.4,768.7 848.7,769.0 849.0,766.6 849.3,773.4 849.6,769.9 850.0,775.3 850.3,774.5 850.6,773.7 850.9,769.4 851.2,771.1 851.5,780.3 851.8,767.5 852.1,775.6 852.4,762.7 852.7,774.2 853.1,761.1 853.4,769.6 853.7,781.1 854.0,769.5 854.3,777.4 854.6,771.0 854.9,776.9 855.2,768.9 855.5,768.8 855.8,776.3 856.2,776.5 856.5,783.4 856.8,773.7 857.1,770.4 857.4,765.5 857.7,783.2 858.0,779.7 858.3,777.0 858.6,783.5 858.9,784.9 859.3,781.6 859.6,780.4 859.9,773.3 860.2,772.8 860.5,775.5 860.8,783.9 861.1,770.6 861.4,781.2 861.7,785.4 862.0,778.1 862.4,775.2 862.7,771.0 863.0,786.3 863.3,777.2 863.6,782.8 863.9,777.9 864.2,779.0 864.5,781.6 864.8,778.0 865.1,785.1 865.5,783.3 865.8,785.7 866.1,769.8 866.4,780.2 866.7,770.1 867.0,771.0 867.3,783.6 867.6,785.7 867.9,777.9 868.2,775.0 868.6,785.9 868.9,787.1 869.2,777.9 869.5,774.8 869.8,771.5 870.1,788.0 870.4,784.9 870.7,790.2 871.0,782.9 871.3,788.9 871.7,770.2 872.0,787.8 872.3,782.2 872.6,779.4 872.9,785.8 873.2,775.7 873.5,784.1 873.8,776.3 874.1,773.7 874.4,779.5 874.8,789.0 875.1,783.4 875.4,774.3 875.7,785.1 876.0,787.8 876.3,790.2 876.6,791.2 876.9,787.6 877.2,776.4 877.5,794.6 877.9,779.0 878.2,784.0 878.5,788.5 878.8,785.2 879.1,787.3 879.4,790.9 879.7,784.3 880.0,781.0 880.3,775.8 880.6,791.3 881.0,788.9 881.3,785.0 881.6,775.2 881.9,777.1 882.2,775.2 882.5,789.9 882.8,787.2 883.1,788.1 883.4,783.8 883.7,782.1 884.1,777.3 884.4,786.4 884.7,786.4 885.0,776.4 885.3,784.2 885.6,787.9 885.9,790.8 886.2,779.9 886.5,784.8 886.8,781.2 887.2,793.3 887.5,791.5 887.8,794.1 888.1,782.9 888.4,785.1 888.7,776.8 889.0,784.7 889.3,795.2 889.6,796.8 889.9,782.1 890.3,791.0 890.6,793.7 890.9,793.9 891.2,791.5 891.5,789.2 891.8,792.8 892.1,785.8 892.4,796.9 892.7,797.4 893.0,788.1 893.4,784.5 893.7,780.8 894.0,791.1 894.3,796.3 894.6,786.6 894.9,779.4 895.2,778.5 895.5,794.3 895.8,791.9 896.1,785.6 896.5,790.1 896.8,779.3 897.1,786.2 897.4,797.3 897.7,784.7 898.0,786.5 898.3,791.9 898.6,794.5 898.9,790.2 899.2,787.5 899.6,790.9 899.9,788.5 900.2,785.5 900.5,786.8 900.8,784.2 901.1,796.9 901.4,779.8 901.7,798.3 902.0,798.3 902.3,782.7 902.7,789.3 903.0,785.2 903.3,780.0 903.6,779.7 903.9,783.6 904.2,796.1 904.5,798.6 904.8,797.4 905.1,793.6 905.4,790.7 905.8,778.0 906.1,784.5 906.4,794.6 906.7,783.1 907.0,779.1 907.3,793.9 907.6,785.9 907.9,789.7 908.2,798.6 908.5,796.8 908.9,793.0 909.2,789.5 909.5,796.0 909.8,795.7 910.1,777.8 910.4,779.7 910.7,793.0 911.0,795.1 911.3,796.8 911.6,790.3 912.0,798.7 912.3,777.5 912.6,798.2 912.9,781.9 913.2,798.3 913.5,790.6 913.8,790.0 914.1,780.6 914.4,796.8 914.7,778.2 915.1,788.0 915.4,777.6 915.7,787.5 916.0,782.5 916.3,796.9 916.6,798.1 916.9,776.2 917.2,791.1 917.5,794.8 917.8,793.4 918.2,785.1 918.5,788.3 918.8,792.1 919.1,785.4 919.4,799.8 919.7,778.7 920.0,783.8 920.3,782.9 920.6,797.5 920.9,788.0 921.3,784.1 921.6,783.0 921.9,794.1 922.2,792.4 922.5,779.5 922.8,800.7 923.1,781.2 923.4,793.8 923.7,796.2 924.0,785.4 924.4,798.6 924.7,776.3 925.0,776.9 925.3,788.4 925.6,797.6 925.9,778.9 926.2,777.8 926.5,794.7 926.8,776.9 927.1,793.3 927.5,777.5 927.8,776.4 928.1,779.2 928.4,781.8 928.7,788.2 929.0,796.9 929.3,784.4 929.6,784.5 929.9,786.5 930.2,792.6 930.6,789.3 930.9,798.5 931.2,794.9 931.5,789.4 931.8,782.4 932.1,793.2 932.4,798.3 932.7,791.2 933.0,783.6 933.3,796.6 933.7,796.3 934.0,797.8 934.3,785.3 934.6,794.1 934.9,789.9 935.2,785.9 935.5,797.0 935.8,783.6 936.1,786.8 936.4,788.2 936.8,793.3 937.1,791.0 937.4,788.1 937.7,788.5 938.0,787.8 938.3,782.3 938.6,781.4 938.9,790.4 939.2,784.7 939.5,790.6 939.9,788.4 940.2,790.9 940.5,780.5 940.8,791.5 941.1,798.8 941.4,787.1 941.7,798.4 942.0,782.0 942.3,780.7 942.6,780.7 943.0,797.3 943.3,787.3 943.6,794.8 943.9,783.2 944.2,793.3 944.5,790.8 944.8,786.2 945.1,789.0 945.4,788.6 945.7,794.6 946.1,783.6 946.4,791.2 946.7,782.7 947.0,791.6 947.3,783.6 947.6,792.0 947.9,798.1 948.2,789.6 948.5,795.6 948.8,786.9 949.2,784.2 949.5,796.7 949.8,780.3 950.1,796.4 950.4,781.6 950.7,781.9 951.0,788.5 951.3,791.8 951.6,786.0 951.9,797.5 952.3,784.2 952.6,795.5 952.9,784.8 953.2,786.8 953.5,796.6 953.8,789.9 954.1,786.2 954.4,779.9 954.7,794.2 955.0,790.7 955.4,789.9 955.7,793.3 956.0,789.0 956.3,787.2 956.6,786.5 956.9,790.9 957.2,790.8 957.5,797.8 957.8,781.0 958.1,791.9 958.5,798.2 958.8,796.9 959.1,787.1 959.4,795.1 959.7,796.4 960.0,787.5 960.3,791.6 960.6,787.0 960.9,791.9 961.2,792.2 961.6,798.2 961.9,783.1 962.2,795.0 962.5,792.8 962.8,800.4 963.1,797.3 963.4,782.7 963.7,795.3 964.0,794.5 964.3,798.6 964.7,787.1 965.0,798.9 965.3,788.7 965.6,799.0 965.9,782.5 966.2,784.0 966.5,790.6 966.8,793.8 967.1,782.4 967.4,787.0 967.8,794.1 968.1,786.3 968.4,790.6 968.7,788.1 969.0,786.8 969.3,793.3 969.6,795.9 969.9,785.6 970.2,799.1 970.5,799.7 970.9,799.0 971.2,797.6 971.5,798.0 971.8,795.7 972.1,798.0 972.4,795.8 972.7,793.1 973.0,783.3 973.3,798.7 973.6,788.6 974.0,799.8 974.3,787.3 974.6,795.9 974.9,789.9 975.2,795.0 975.5,795.1 975.8,800.9 976.1,785.8 976.4,794.0 976.7,789.9 977.1,786.6 977.4,784.1 977.7,791.1 978.0,795.8 978.3,790.9 978.6,794.2 978.9,790.4 979.2,792.5 979.5,794.6 979.8,796.2 980.2,794.8 980.5,800.1 980.8,794.9 981.1,798.3 981.4,784.8 981.7,802.6 982.0,791.0 982.3,802.4 982.6,795.1 982.9,796.4 983.3,796.9 983.6,792.6 983.9,783.4 984.2,798.6 984.5,802.0 984.8,797.4 985.1,792.9 985.4,792.9 985.7,792.6 986.0,798.6 986.4,784.0 986.7,783.6 987.0,796.9 987.3,790.5 987.6,799.6 987.9,787.0 988.2,789.2 988.5,796.2 988.8,792.0 989.1,799.7 989.5,805.0 989.8,789.1 990.1,799.4 990.4,783.8 990.7,784.2 991.0,787.9 991.3,795.2 991.6,795.0 991.9,791.3 992.2,793.7 992.6,803.5 992.9,791.4 993.2,792.7 993.5,798.5 993.8,797.3 994.1,789.7 994.4,801.1 994.7,795.6 995.0,787.7 995.3,800.3 995.7,787.1 996.0,798.7 996.3,785.5 996.6,793.1 996.9,795.8 997.2,789.2 997.5,790.6 997.8,786.7 998.1,797.1 998.4,793.2 998.8,796.2 999.1,797.4 999.4,787.2 999.7,785.3 1000.0,792.1 1000.3,797.7 1000.6,802.1 1000.9,801.0 1001.2,788.1 1001.5,797.5 1001.9,798.9 1002.2,803.2 1002.5,792.6 1002.8,789.9 1003.1,789.8 1003.4,786.7 1003.7,803.1 1004.0,803.1 1004.3,798.4 1004.6,788.6 1005.0,794.4 1005.3,798.8 1005.6,789.6 1005.9,792.4 1006.2,795.5 1006.5,792.2 1006.8,788.0 1007.1,802.5 1007.4,796.6 1007.7,787.9 1008.1,802.1 1008.4,789.7 1008.7,792.5 1009.0,795.4 1009.3,797.0 1009.6,791.5 1009.9,797.7 1010.2,795.4 1010.5,797.0 1010.8,798.8 1011.2,790.0 1011.5,794.9 1011.8,798.4 1012.1,797.7 1012.4,789.1 1012.7,792.4 1013.0,794.7 1013.3,801.7 1013.6,795.8 1013.9,791.0 1014.3,798.2 1014.6,799.8 1014.9,803.4 1015.2,793.0 1015.5,794.9 1015.8,794.2 1016.1,801.6 1016.4,789.7 1016.7,794.9 1017.0,798.2 1017.4,793.2 1017.7,801.9 1018.0,789.1 1018.3,788.0 1018.6,793.1 1018.9,802.7 1019.2,802.7 1019.5,797.9 1019.8,804.1 1020.1,788.9 1020.5,789.8 1020.8,803.2 1021.1,799.5 1021.4,800.1 1021.7,800.4 1022.0,797.7 1022.3,790.5 1022.6,792.5 1022.9,789.9 1023.2,798.1 1023.6,800.7 1023.9,800.8 1024.2,792.9 1024.5,804.1 1024.8,796.9 1025.1,804.4 1025.4,800.3 1025.7,800.7 1026.0,791.8 1026.3,800.5 1026.7,802.9 1027.0,798.3 1027.3,792.1 1027.6,800.6 1027.9,800.6 1028.2,795.1 1028.5,805.0 1028.8,793.8 1029.1,800.1 1029.4,789.7 1029.8,791.1 1030.1,786.2 1030.4,791.3 1030.7,801.6 1031.0,797.0 1031.3,798.0 1031.6,788.4 1031.9,792.3 1032.2,787.8 1032.5,804.4 1032.9,786.6 1033.2,801.9 1033.5,795.1 1033.8,787.1 1034.1,800.4 1034.4,795.9 1034.7,800.3 1035.0,800.5 1035.3,787.1 1035.6,788.3 1036.0,785.3 1036.3,794.9 1036.6,788.2 1036.9,796.9 1037.2,794.2 1037.5,793.7 1037.8,802.3 1038.1,800.6 1038.4,796.1 1038.7,787.4 1039.1,804.2 1039.4,801.7 1039.7,802.3 1040.0,791.7 1040.3,789.1 1040.6,801.6 1040.9,785.4 1041.2,785.1 1041.5,800.5 1041.8,794.9 1042.2,791.2 1042.5,793.8 1042.8,788.4 1043.1,799.7 1043.4,802.4 1043.7,793.8 1044.0,800.9 1044.3,804.6 1044.6,798.4 1044.9,795.4 1045.3,786.7 1045.6,789.6 1045.9,801.6 1046.2,794.4 1046.5,794.2 1046.8,795.7 1047.1,786.9 1047.4,800.2 1047.7,796.4 1048.0,788.8 1048.4,804.5 1048.7,788.9 1049.0,794.3 1049.3,801.5 1049.6,786.9 1049.9,795.8 1050.2,803.7 1050.5,803.4 1050.8,794.3 1051.1,799.5 1051.5,788.9 1051.8,789.6 1052.1,795.4 1052.4,793.4 1052.7,801.5 1053.0,799.4 1053.3,792.8 1053.6,801.5 1053.9,798.4 1054.2,802.8 1054.6,801.7 1054.9,794.7 1055.2,803.1 1055.5,797.4 1055.8,797.7 1056.1,803.9 1056.4,792.0 1056.7,794.3 1057.0,788.7 1057.3,801.2 1057.7,794.4 1058.0,804.1 1058.3,800.9 1058.6,791.9 1058.9,802.9 1059.2,797.6 1059.5,804.0 1059.8,795.3 1060.1,803.7 1060.4,796.8 1060.8,796.1 1061.1,791.0 1061.4,799.4 1061.7,795.5 1062.0,798.0 1062.3,794.9 1062.6,797.8 1062.9,798.4 1063.2,792.1 1063.5,801.7 1063.9,801.0 1064.2,805.7 1064.5,800.2 1064.8,794.2 1065.1,805.1 1065.4,796.3 1065.7,801.1 1066.0,800.8 1066.3,799.3 1066.6,798.9 1067.0,793.0 1067.3,798.2 1067.6,798.3 1067.9,802.8 1068.2,799.6 1068.5,792.4 1068.8,793.5 1069.1,794.7 1069.4,800.8 1069.7,790.2 1070.1,800.7 1070.4,797.2 1070.7,793.8 1071.0,796.0 1071.3,796.7 1071.6,794.3 1071.9,791.7 1072.2,794.0 1072.5,797.2 1072.8,800.1 1073.2,796.8 1073.5,795.9 1073.8,792.2 1074.1,788.7 1074.4,798.6 1074.7,797.1 1075.0,796.5 1075.3,786.3 1075.6,797.9 1075.9,790.4 1076.3,785.8 1076.6,797.6 1076.9,799.5 1077.2,789.3 1077.5,788.0 1077.8,796.4 1078.1,788.6 1078.4,795.1 1078.7,794.9 1079.0,786.2 1079.4,790.8 1079.7,797.9 1080.0,791.1 1080.3,788.2 1080.6,794.5 1080.9,791.9 1081.2,793.1 1081.5,797.1 1081.8,794.1 1082.1,799.2 1082.5,798.4 1082.8,798.3 1083.1,787.8 1083.4,792.0 1083.7,803.4 1084.0,797.5 1084.3,799.7 1084.6,796.7 1084.9,795.1 1085.2,792.5 1085.6,800.2 1085.9,795.5 1086.2,803.4 1086.5,792.2 1086.8,792.7 1087.1,802.5 1087.4,798.3 1087.7,799.3 1088.0,798.8 1088.3,801.0 1088.7,802.1 1089.0,803.1 1089.3,796.9 1089.6,789.6 1089.9,796.6 1090.2,792.3 1090.5,797.9 1090.8,805.4 1091.1,804.7 1091.4,804.4 1091.8,793.2 1092.1,798.5 1092.4,795.6 1092.7,798.4 1093.0,797.9 1093.3,796.5 1093.6,796.6 1093.9,797.4 1094.2,795.2 1094.5,798.9 1094.9,802.5 1095.2,799.1 1095.5,790.7 1095.8,795.8 1096.1,804.4 1096.4,797.6 1096.7,806.5 1097.0,790.7 1097.3,795.8 1097.6,800.5 1098.0,797.9 1098.3,800.8 1098.6,794.6 1098.9,800.4 1099.2,792.3 1099.5,804.7 1099.8,801.4 1100.1,791.4 1100.4,796.2 1100.7,800.7 1101.1,794.0 1101.4,798.0 1101.7,800.6 1102.0,800.6 1102.3,801.5 1102.6,803.2 1102.9,806.1 1103.2,794.0 1103.5,793.7 1103.8,807.5 1104.2,793.2 1104.5,792.5 1104.8,802.5 1105.1,798.5 1105.4,805.2 1105.7,790.6 1106.0,799.8 1106.3,807.7 1106.6,802.7 1106.9,794.2 1107.3,791.5 1107.6,797.5 1107.9,791.5 1108.2,799.3 1108.5,801.1 1108.8,791.9 1109.1,800.2 1109.4,796.5 1109.7,796.4 1110.0,795.3 1110.4,799.2 1110.7,791.6 1111.0,807.5 1111.3,797.4 1111.6,796.2 1111.9,805.4 1112.2,802.8 1112.5,804.5 1112.8,795.0 1113.1,808.2 1113.5,799.3 1113.8,803.9 1114.1,796.7 1114.4,796.3 1114.7,796.0 1115.0,807.3 1115.3,796.4 1115.6,799.0 1115.9,799.3 1116.2,802.9 1116.6,799.3 1116.9,800.6 1117.2,804.2 1117.5,794.3 1117.8,794.5 1118.1,801.2 1118.4,793.2 1118.7,805.3 1119.0,800.2 1119.3,792.5 1119.7,796.8 1120.0,804.4 1120.3,796.4 1120.6,808.7 1120.9,802.4 1121.2,808.5 1121.5,803.7 1121.8,804.5 1122.1,796.0 1122.4,797.3 1122.8,800.7 1123.1,800.4 1123.4,800.3 1123.7,803.2 1124.0,803.7 1124.3,805.5 1124.6,795.4 1124.9,797.8 1125.2,804.9 1125.5,808.5 1125.9,795.8 1126.2,797.2 1126.5,796.6 1126.8,795.0 1127.1,799.5 1127.4,802.6 1127.7,797.9 1128.0,798.8 1128.3,805.2 1128.6,808.1 1129.0,802.0 1129.3,798.9 1129.6,806.8 1129.9,791.0 1130.2,796.2 1130.5,795.4 1130.8,804.5 1131.1,801.6 1131.4,794.2 1131.7,804.0 1132.1,802.3 1132.4,800.6 1132.7,799.1 1133.0,793.4 1133.3,796.6 1133.6,804.0 1133.9,791.3 1134.2,800.4 1134.5,792.1 1134.8,796.0 1135.2,801.6 1135.5,796.2 1135.8,797.6 1136.1,794.6 1136.4,803.8 1136.7,800.3 1137.0,801.2 1137.3,793.8 1137.6,791.1 1137.9,795.9 1138.3,797.3 1138.6,798.0 1138.9,794.8 1139.2,794.0 1139.5,800.9 1139.8,799.3 1140.1,793.6 1140.4,799.2 1140.7,794.3 1141.0,799.8 1141.4,805.5 1141.7,793.5 1142.0,806.5 1142.3,804.4 1142.6,796.7 1142.9,806.9 1143.2,797.5 1143.5,794.9 1143.8,802.5 1144.1,803.1 1144.5,806.1 1144.8,798.7 1145.1,801.0 1145.4,797.2 1145.7,804.7 1146.0,808.1 1146.3,802.3 1146.6,803.7 1146.9,803.1"/>
<polyline fill="none" stroke="#505050" stroke-width="3.8" stroke-linejoin="round" stroke-linecap="round" points="125.8,353.5 126.1,354.9 126.4,350.2 126.7,355.4 127.0,379.8 127.4,348.7 127.7,383.6 128.0,364.8 128.3,384.6 128.6,362.3 128.9,382.1 129.2,382.3 129.5,371.9 129.8,352.0 130.1,364.2 130.5,367.0 130.8,377.4 131.1,384.4 131.4,380.2 131.7,385.5 132.0,362.2 132.3,364.5 132.6,391.1 132.9,380.2 133.2,375.4 133.6,366.9 133.9,366.5 134.2,358.6 134.5,383.4 134.8,384.3 135.1,366.5 135.4,392.1 135.7,377.1 136.0,395.3 136.3,376.2 136.7,390.4 137.0,389.9 137.3,392.2 137.6,370.5 137.9,363.1 138.2,372.1 138.5,371.7 138.8,385.3 139.1,366.5 139.4,385.7 139.8,382.7 140.1,369.3 140.4,357.2 140.7,358.6 141.0,354.6 141.3,387.5 141.6,375.5 141.9,366.1 142.2,371.5 142.5,367.5 142.9,384.9 143.2,386.1 143.5,365.2 143.8,398.2 144.1,380.8 144.4,386.4 144.7,379.4 145.0,382.8 145.3,373.3 145.6,382.3 146.0,396.5 146.3,386.5 146.6,374.0 146.9,385.0 147.2,393.4 147.5,378.9 147.8,402.2 148.1,364.0 148.4,400.6 148.7,352.0 149.1,359.3 149.4,374.8 149.7,379.5 150.0,402.0 150.3,385.4 150.6,377.4 150.9,392.6 151.2,384.3 151.5,404.0 151.8,402.4 152.2,397.2 152.5,401.1 152.8,385.7 153.1,382.7 153.4,398.9 153.7,373.5 154.0,391.5 154.3,389.3 154.6,384.1 154.9,397.1 155.3,389.6 155.6,398.3 155.9,383.4 156.2,380.9 156.5,393.1 156.8,398.9 157.1,389.4 157.4,383.3 157.7,376.3 158.0,380.5 158.4,380.4 158.7,395.5 159.0,391.5 159.3,400.5 159.6,392.6 159.9,401.6 160.2,394.4 160.5,379.9 160.8,392.2 161.1,389.4 161.5,380.8 161.8,383.2 162.1,389.9 162.4,394.1 162.7,405.0 163.0,388.8 163.3,393.2 163.6,391.9 163.9,383.3 164.2,377.9 164.6,390.3 164.9,389.2 165.2,385.1 165.5,395.7 165.8,403.9 166.1,401.5 166.4,381.7 166.7,378.7 167.0,392.7 167.3,387.5 167.7,391.5 168.0,409.3 168.3,389.3 168.6,400.2 168.9,379.7 169.2,401.2 169.5,407.3 169.8,410.9 170.1,388.4 170.4,407.6 170.8,385.5 171.1,397.0 171.4,397.5 171.7,408.3 172.0,397.3 172.3,408.9 172.6,396.3 172.9,394.6 173.2,410.9 173.5,397.3 173.9,395.3 174.2,394.7 174.5,383.7 174.8,392.3 175.1,398.8 175.4,394.8 175.7,411.3 176.0,388.2 176.3,405.0 176.6,393.5 177.0,410.9 177.3,399.2 177.6,405.8 177.9,405.4 178.2,389.2 178.5,401.6 178.8,399.5 179.1,412.7 179.4,395.6 179.7,399.0 180.1,396.3 180.4,406.9 180.7,394.5 181.0,414.6 181.3,400.6 181.6,401.1 181.9,396.1 182.2,392.9 182.5,412.8 182.8,415.0 183.2,413.3 183.5,394.1 183.8,398.0 184.1,399.5 184.4,406.6 184.7,400.5 185.0,412.5 185.3,404.9 185.6,406.1 185.9,416.1 186.3,392.7 186.6,404.1 186.9,398.0 187.2,419.2 187.5,419.1 187.8,406.7 188.1,413.9 188.4,415.5 188.7,417.9 189.0,406.5 189.4,395.5 189.7,408.9 190.0,410.4 190.3,400.0 190.6,402.1 190.9,402.2 191.2,419.5 191.5,403.6 191.8,413.0 192.1,398.1 192.5,416.9 192.8,411.8 193.1,408.2 193.4,398.3 193.7,417.9 194.0,427.6 194.3,413.1 194.6,435.0 194.9,402.8 195.2,422.1 195.6,417.9 195.9,431.9 196.2,415.1 196.5,402.4 196.8,422.5 197.1,415.5 197.4,402.6 197.7,413.9 198.0,417.1 198.3,414.5 198.7,414.7 199.0,431.7 199.3,427.1 199.6,403.7 199.9,409.7 200.2,406.9 200.5,425.7 200.8,412.9 201.1,418.4 201.4,399.9 201.8,400.9 202.1,424.2 202.4,399.4 202.7,409.3 203.0,418.4 203.3,421.8 203.6,420.3 203.9,397.8 204.2,423.0 204.5,396.5 204.9,415.9 205.2,428.2 205.5,422.4 205.8,430.1 206.1,424.6 206.4,408.2 206.7,431.3 207.0,414.8 207.3,399.5 207.6,427.9 208.0,424.7 208.3,416.6 208.6,421.8 208.9,422.6 209.2,418.3 209.5,399.3 209.8,413.2 210.1,400.2 210.4,398.1 210.7,405.0 211.1,397.2 211.4,413.0 211.7,413.0 212.0,405.9 212.3,403.8 212.6,420.8 212.9,399.0 213.2,415.4 213.5,425.5 213.8,412.7 214.2,424.5 214.5,412.7 214.8,421.6 215.1,426.0 215.4,411.1 215.7,425.7 216.0,414.8 216.3,401.1 216.6,430.6 216.9,415.1 217.3,418.8 217.6,421.8 217.9,409.6 218.2,412.0 218.5,410.1 218.8,418.1 219.1,426.2 219.4,418.9 219.7,422.2 220.0,419.2 220.4,422.3 220.7,411.0 221.0,416.2 221.3,427.8 221.6,406.8 221.9,431.2 222.2,421.6 222.5,417.3 222.8,416.4 223.1,421.4 223.5,419.8 223.8,429.8 224.1,411.0 224.4,430.5 224.7,413.0 225.0,412.3 225.3,423.9 225.6,413.6 225.9,416.6 226.2,414.7 226.6,417.7 226.9,425.0 227.2,432.8 227.5,424.8 227.8,426.6 228.1,405.0 228.4,431.3 228.7,420.9 229.0,427.6 229.3,426.3 229.7,430.6 230.0,420.0 230.3,423.2 230.6,403.8 230.9,406.3 231.2,427.9 231.5,410.9 231.8,431.9 232.1,402.9 232.4,430.8 232.8,418.9 233.1,428.5 233.4,420.1 233.7,423.1 234.0,411.1 234.3,411.7 234.6,434.0 234.9,405.9 235.2,426.7 235.5,411.7 235.9,428.6 236.2,424.0 236.5,403.1 236.8,419.9 237.1,427.7 237.4,432.9 237.7,434.1 238.0,419.2 238.3,414.7 238.6,404.2 239.0,406.8 239.3,410.1 239.6,413.3 239.9,409.1 240.2,426.6 240.5,429.6 240.8,433.6 241.1,426.9 241.4,427.0 241.7,433.0 242.1,414.3 242.4,409.8 242.7,432.3 243.0,412.9 243.3,424.3 243.6,432.6 243.9,432.1 244.2,428.6 244.5,414.1 244.8,434.5 245.2,422.9 245.5,415.2 245.8,416.8 246.1,416.5 246.4,430.5 246.7,437.5 247.0,430.9 247.3,408.6 247.6,409.4 247.9,411.9 248.3,426.3 248.6,424.8 248.9,429.4 249.2,427.3 249.5,428.3 249.8,436.2 250.1,421.1 250.4,436.0 250.7,422.4 251.0,434.9 251.4,419.0 251.7,413.8 252.0,413.9 252.3,436.4 252.6,424.5 252.9,420.5 253.2,435.8 253.5,425.9 253.8,412.7 254.1,426.1 254.5,429.2 254.8,434.6 255.1,412.2 255.4,429.1 255.7,427.5 256.0,418.3 256.3,433.5 256.6,427.7 256.9,429.2 257.2,425.1 257.6,428.4 257.9,428.5 258.2,417.3 258.5,420.2 258.8,420.6 259.1,420.0 259.4,421.2 259.7,416.6 260.0,425.5 260.3,424.3 260.7,416.2 261.0,401.2 261.3,422.0 261.6,407.4 261.9,390.0 262.2,393.5 262.5,415.8 262.8,410.1 263.1,426.6 263.4,421.5 263.8,427.8 264.1,431.6 264.4,428.9 264.7,431.2 265.0,420.6 265.3,426.4 265.6,412.4 265.9,419.3 266.2,406.7 266.5,427.8 266.9,419.1 267.2,431.1 267.5,427.1 267.8,430.8 268.1,425.4 268.4,431.6 268.7,409.3 269.0,416.3 269.3,427.8 269.6,422.7 270.0,432.9 270.3,421.0 270.6,429.6 270.9,413.8 271.2,432.3 271.5,428.6 271.8,425.9 272.1,429.3 272.4,428.0 272.7,423.7 273.1,420.7 273.4,420.8 273.7,435.4 274.0,427.4 274.3,414.3 274.6,420.7 274.9,428.8 275.2,422.9 275.5,422.9 275.8,434.0 276.2,415.5 276.5,418.4 276.8,429.7 277.1,421.7 277.4,434.7 277.7,422.4 278.0,420.5 278.3,407.1 278.6,407.9 278.9,420.2 279.3,405.7 279.6,412.0 279.9,400.8 280.2,400.7 280.5,386.8 280.8,394.2 281.1,404.0 281.4,407.3 281.7,394.4 282.0,405.9 282.4,404.3 282.7,412.5 283.0,410.8 283.3,426.2 283.6,420.6 283.9,425.7 284.2,415.2 284.5,429.1 284.8,419.2 285.1,429.8 285.5,426.9 285.8,422.7 286.1,436.5 286.4,426.6 286.7,432.4 287.0,429.8 287.3,428.8 287.6,427.1 287.9,431.9 288.2,421.2 288.6,436.4 288.9,426.9 289.2,428.6 289.5,426.1 289.8,423.9 290.1,428.8 290.4,428.8 290.7,424.3 291.0,426.8 291.3,440.1 291.7,423.5 292.0,437.3 292.3,433.0 292.6,436.8 292.9,440.1 293.2,426.9 293.5,432.5 293.8,421.8 294.1,432.0 294.4,427.7 294.8,433.9 295.1,430.6 295.4,440.3 295.7,424.4 296.0,429.1 296.3,421.5 296.6,422.5 296.9,439.6 297.2,429.1 297.5,423.3 297.9,418.5 298.2,427.0 298.5,418.1 298.8,426.0 299.1,424.0 299.4,436.6 299.7,419.4 300.0,417.9 300.3,427.5 300.6,413.2 301.0,450.0 301.3,420.3 301.6,427.6 301.9,416.1 302.2,432.6 302.5,429.3 302.8,431.4 303.1,419.6 303.4,438.7 303.7,427.6 304.1,438.5 304.4,430.3 304.7,429.5 305.0,423.4 305.3,434.1 305.6,429.3 305.9,423.8 306.2,422.8 306.5,422.4 306.8,419.8 307.2,435.5 307.5,438.0 307.8,430.1 308.1,437.2 308.4,437.2 308.7,435.3 309.0,429.1 309.3,433.9 309.6,423.3 309.9,426.2 310.3,422.5 310.6,419.0 310.9,437.1 311.2,425.2 311.5,419.8 311.8,421.6 312.1,437.2 312.4,420.0 312.7,422.4 313.0,437.1 313.4,429.9 313.7,416.0 314.0,434.6 314.3,421.2 314.6,425.8 314.9,428.0 315.2,423.9 315.5,437.3 315.8,434.6 316.1,425.9 316.5,425.0 316.8,423.1 317.1,421.5 317.4,418.3 317.7,427.9 318.0,416.5 318.3,424.3 318.6,418.1 318.9,420.8 319.2,421.3 319.6,430.3 319.9,425.2 320.2,435.1 320.5,438.8 320.8,434.3 321.1,433.7 321.4,431.8 321.7,427.5 322.0,425.0 322.3,438.5 322.7,425.9 323.0,428.9 323.3,430.6 323.6,441.1 323.9,419.0 324.2,431.0 324.5,441.8 324.8,432.0 325.1,421.9 325.4,420.5 325.8,441.0 326.1,437.3 326.4,441.6 326.7,429.8 327.0,426.9 327.3,442.5 327.6,415.0 327.9,425.6 328.2,414.3 328.5,438.2 328.9,412.4 329.2,448.0 329.5,412.5 329.8,436.9 330.1,430.2 330.4,422.9 330.7,435.4 331.0,440.9 331.3,419.7 331.6,414.2 332.0,441.8 332.3,432.1 332.6,426.4 332.9,415.5 333.2,435.2 333.5,433.8 333.8,434.9 334.1,437.1 334.4,440.1 334.7,418.8 335.1,422.8 335.4,429.3 335.7,419.1 336.0,420.1 336.3,438.9 336.6,438.2 336.9,439.3 337.2,430.7 337.5,420.2 337.8,432.4 338.2,437.0 338.5,423.6 338.8,437.6 339.1,424.3 339.4,428.3 339.7,444.8 340.0,436.8 340.3,431.3 340.6,441.9 340.9,441.4 341.3,429.5 341.6,432.4 341.9,445.4 342.2,435.3 342.5,432.7 342.8,423.8 343.1,438.9 343.4,435.8 343.7,423.3 344.0,437.5 344.4,445.1 344.7,440.1 345.0,444.8 345.3,423.7 345.6,426.5 345.9,443.3 346.2,432.1 346.5,439.7 346.8,425.1 347.1,422.8 347.5,420.2 347.8,423.0 348.1,420.9 348.4,419.8 348.7,425.0 349.0,431.6 349.3,429.1 349.6,422.6 349.9,439.9 350.2,430.9 350.6,418.3 350.9,427.3 351.2,433.2 351.5,436.1 351.8,431.1 352.1,431.1 352.4,434.9 352.7,432.0 353.0,425.5 353.3,427.4 353.7,430.0 354.0,419.8 354.3,421.3 354.6,431.9 354.9,435.0 355.2,432.5 355.5,423.2 355.8,432.8 356.1,425.3 356.4,431.6 356.8,432.0 357.1,439.6 357.4,429.8 357.7,421.8 358.0,436.8 358.3,426.3 358.6,437.6 358.9,434.1 359.2,421.2 359.5,439.2 359.9,426.9 360.2,435.4 360.5,423.7 360.8,416.9 361.1,426.9 361.4,436.3 361.7,427.4 362.0,423.5 362.3,425.8 362.6,441.0 363.0,423.2 363.3,431.8 363.6,439.2 363.9,431.2 364.2,427.0 364.5,425.5 364.8,432.9 365.1,436.7 365.4,420.7 365.7,416.2 366.1,427.1 366.4,431.4 366.7,425.4 367.0,419.2 367.3,419.6 367.6,433.6 367.9,420.5 368.2,434.2 368.5,422.1 368.8,429.1 369.2,420.9 369.5,433.4 369.8,430.6 370.1,418.4 370.4,430.1 370.7,427.2 371.0,429.9 371.3,421.6 371.6,405.1 371.9,413.8 372.3,424.3 372.6,427.7 372.9,416.8 373.2,427.7 373.5,430.4 373.8,414.3 374.1,427.2 374.4,413.9 374.7,410.3 375.0,410.3 375.4,413.2 375.7,420.5 376.0,412.3 376.3,426.3 376.6,427.9 376.9,413.1 377.2,409.1 377.5,424.0 377.8,424.8 378.1,425.9 378.5,416.7 378.8,404.9 379.1,413.6 379.4,417.8 379.7,408.9 380.0,402.2 380.3,408.9 380.6,419.4 380.9,412.4 381.2,418.4 381.6,399.4 381.9,414.2 382.2,411.4 382.5,412.2 382.8,394.8 383.1,391.8 383.4,392.6 383.7,390.0 384.0,405.2 384.3,383.5 384.7,388.4 385.0,382.3 385.3,401.6 385.6,389.5 385.9,385.6 386.2,382.6 386.5,387.5 386.8,404.8 387.1,389.7 387.4,402.4 387.8,405.1 388.1,395.4 388.4,394.6 388.7,409.4 389.0,395.3 389.3,402.9 389.6,397.4 389.9,409.3 390.2,412.6 390.5,395.6 390.9,411.3 391.2,400.9 391.5,399.2 391.8,396.6 392.1,406.1 392.4,401.8 393.0,405.0 393.6,395.0 394.0,370.0 394.4,340.0 394.8,300.0 395.2,260.0 395.6,215.0 396.0,175.0 396.4,159.2 397.0,159.2 397.4,190.0 397.8,240.0 398.2,290.0 398.6,335.0 399.0,372.0 399.5,395.0 400.0,412.0 400.5,402.0 401.0,424.0 401.7,407.9 402.0,423.6 402.3,404.7 402.6,425.9 402.9,418.8 403.3,417.3 403.6,430.5 403.9,424.5 404.2,424.0 404.5,418.4 404.8,428.4 405.1,424.8 405.4,428.7 405.7,428.1 406.0,415.5 406.4,434.0 406.7,405.7 407.0,413.7 407.3,400.1 407.6,432.8 407.9,417.6 408.2,425.8 408.5,417.7 408.8,431.2 409.1,424.2 409.5,413.3 409.8,412.1 410.1,431.7 410.4,423.4 410.7,429.7 411.0,425.9 411.3,416.8 411.6,426.2 411.9,419.4 412.2,423.7 412.6,427.8 412.9,430.0 413.2,432.6 413.5,430.2 413.8,433.3 414.1,428.0 414.4,428.2 414.7,417.9 415.0,435.0 415.3,419.2 415.7,416.6 416.0,424.2 416.3,433.5 416.6,423.4 416.9,423.4 417.2,422.7 417.5,415.1 417.8,421.5 418.1,411.2 418.4,411.0 418.8,409.0 419.1,413.2 419.4,420.6 419.7,406.6 420.0,409.4 420.3,412.3 420.6,424.3 420.9,413.0 421.2,410.2 421.5,426.2 421.9,404.8 422.2,428.3 422.5,407.5 422.8,409.8 423.1,408.4 423.4,420.2 423.7,419.8 424.0,414.7 424.3,422.7 424.6,412.1 425.0,420.7 425.3,425.4 425.6,430.3 425.9,436.3 426.2,418.6 426.5,426.3 426.8,418.6 427.1,429.5 427.4,426.6 427.7,428.0 428.1,427.4 428.4,433.4 428.7,440.7 429.0,427.4 429.3,431.8 429.6,440.9 429.9,437.0 430.2,420.2 430.5,435.2 430.8,426.6 431.2,439.0 431.5,427.7 431.8,422.2 432.1,427.8 432.4,431.0 432.7,419.2 433.0,424.6 433.3,436.3 433.6,418.5 433.9,418.8 434.3,436.4 434.6,433.2 434.9,419.7 435.2,425.2 435.5,426.4 435.8,433.7 436.1,437.5 436.4,437.3 436.7,439.3 437.0,434.6 437.4,438.0 437.7,423.8 438.0,424.5 438.3,431.9 438.6,432.4 438.9,438.6 439.2,425.0 439.5,431.6 439.8,418.4 440.1,430.8 440.5,433.5 440.8,435.9 441.1,433.8 441.4,427.5 441.7,418.5 442.0,435.8 442.3,433.0 442.6,420.6 442.9,423.6 443.2,437.2 443.6,434.9 443.9,434.3 444.2,422.8 444.5,440.8 444.8,433.8 445.1,435.9 445.4,440.4 445.7,435.4 446.0,436.8 446.3,432.2 446.7,422.6 447.0,431.5 447.3,429.3 447.6,440.0 447.9,434.7 448.2,419.7 448.5,424.2 448.8,430.5 449.1,426.7 449.4,417.2 449.8,431.7 450.1,434.7 450.4,416.5 450.7,412.1 451.0,412.7 451.3,435.8 451.6,424.9 451.9,423.0 452.2,416.5 452.5,431.6 452.9,414.5 453.2,411.5 453.5,417.5 453.8,408.3 454.1,418.3 454.4,410.7 454.7,418.9 455.0,418.0 455.3,421.9 455.6,432.0 456.0,411.2 456.3,404.0 456.6,419.3 456.9,414.1 457.2,416.0 457.5,427.2 457.8,424.2 458.1,401.2 458.4,410.5 458.7,423.5 459.1,419.8 459.4,403.3 459.7,405.3 460.0,427.1 460.3,414.9 460.6,424.1 460.9,408.1 461.2,421.2 461.5,403.5 461.8,434.2 462.2,415.5 462.5,424.4 462.8,431.1 463.1,421.9 463.4,419.3 463.7,425.3 464.0,415.3 464.3,430.3 464.6,439.7 464.9,439.8 465.3,421.2 465.6,433.6 465.9,443.2 466.2,441.9 466.5,445.7 466.8,440.1 467.1,442.7 467.4,447.5 467.7,446.7 468.0,447.9 468.4,435.5 468.7,447.0 469.0,436.2 469.3,431.4 469.6,443.8 469.9,415.0 470.2,423.1 470.5,430.7 470.8,433.3 471.1,434.4 471.5,415.8 471.8,427.8 472.1,432.7 472.4,396.0 472.7,418.7 473.0,435.9 473.3,427.4 473.6,423.2 473.9,381.2 474.2,391.6 474.6,411.3 474.9,400.0 475.2,406.2 475.5,380.8 475.8,393.2 476.1,407.4 476.4,386.0 476.7,380.6 477.0,384.6 477.3,395.5 477.7,385.4 478.0,399.8 478.3,380.9 478.6,386.3 478.9,389.1 479.2,384.2 479.5,381.6 479.8,403.8 480.1,387.9 480.4,405.8 480.8,382.4 481.1,395.8 481.4,402.8 481.7,417.2 482.0,416.2 482.3,423.3 482.6,409.3 482.9,419.7 483.2,413.4 483.5,430.0 483.9,420.8 484.2,421.2 484.5,435.9 484.8,433.2 485.1,440.4 485.4,440.9 485.7,441.9 486.0,439.9 486.3,448.9 486.6,445.9 487.0,445.5 487.3,450.5 487.6,451.8 487.9,454.0 488.2,457.4 488.5,447.0 488.8,447.6 489.1,450.8 489.4,454.0 489.7,442.9 490.1,447.0 490.4,451.2 490.7,445.2 491.0,449.0 491.3,443.2 491.6,456.7 491.9,453.5 492.2,455.6 492.5,442.1 492.8,459.2 493.2,456.4 493.5,456.3 493.8,457.1 494.1,455.2 494.4,450.8 494.7,455.4 495.0,449.5 495.3,446.9 495.6,454.2 495.9,442.8 496.3,461.9 496.6,454.8 496.9,446.0 497.2,443.5 497.5,445.2 497.8,446.6 498.1,447.4 498.4,462.5 498.7,453.3 499.0,459.9 499.4,449.2 499.7,457.2 500.0,464.5 500.3,459.5 500.6,455.7 500.9,444.7 501.2,460.1 501.5,458.9 501.8,460.1 502.1,445.7 502.5,461.7 502.8,463.7 503.1,463.4 503.4,462.8 503.7,453.6 504.0,453.5 504.3,461.5 504.6,447.6 504.9,460.2 505.2,454.5 505.6,448.1 505.9,450.1 506.2,464.4 506.5,455.5 506.8,463.4 507.1,455.9 507.4,463.1 507.7,452.4 508.0,463.2 508.3,458.3 508.7,454.2 509.0,456.3 509.3,450.5 509.6,464.6 509.9,454.3 510.2,461.4 510.5,461.3 510.8,465.6 511.1,459.1 511.4,456.1 511.8,460.9 512.1,451.6 512.4,453.0 512.7,450.5 513.0,460.3 513.3,453.6 513.6,455.6 513.9,460.8 514.2,450.2 514.5,460.5 514.9,453.9 515.2,451.8 515.5,451.6 515.8,461.6 516.1,454.1 516.4,449.2 516.7,459.6 517.0,457.9 517.3,463.0 517.6,456.1 518.0,459.4 518.3,454.8 518.6,456.6 518.9,456.2 519.2,448.9 519.5,456.2 519.8,454.4 520.1,452.4 520.4,446.8 520.7,441.8 521.1,454.5 521.4,459.3 521.7,449.9 522.0,460.7 522.3,450.0 522.6,448.8 522.9,450.8 523.2,453.3 523.5,454.6 523.8,449.7 524.2,448.7 524.5,455.1 524.8,462.3 525.1,453.7 525.4,452.2 525.7,452.1 526.0,460.2 526.3,453.4 526.6,457.5 526.9,459.6 527.3,453.4 527.6,456.8 527.9,454.1 528.2,457.0 528.5,450.5 528.8,457.2 529.1,456.9 529.4,451.9 529.7,450.6 530.0,457.8 530.3,452.6 530.7,457.3 531.0,460.6 531.3,452.0 531.6,459.2 531.9,463.1 532.2,456.8 532.5,457.0 532.8,458.2 533.1,454.0 533.4,463.5 533.8,454.0 534.1,458.6 534.4,458.4 534.7,459.5 535.0,458.3 535.3,457.8 535.6,455.9 535.9,457.9 536.2,452.3 536.5,452.6 536.9,463.1 537.2,459.5 537.5,464.5 537.8,454.0 538.1,463.1 538.4,457.4 538.7,460.2 539.0,464.8 539.3,459.8 539.6,457.7 540.0,459.8 540.3,463.6 540.6,456.0 540.9,458.9 541.2,461.3 541.5,457.5 541.8,457.1 542.1,457.6 542.4,460.5 542.7,458.1 543.1,464.1 543.4,456.8 543.7,460.4 544.0,459.6 544.3,460.8 544.6,462.0 544.9,462.8 545.2,453.9 545.5,458.4 545.8,461.5 546.2,460.8 546.5,462.4 546.8,454.9 547.1,455.1 547.4,459.5 547.7,460.5 548.0,460.2 548.3,459.0 548.6,454.8 548.9,462.4 549.3,459.2 549.6,462.0 549.9,461.6 550.2,457.5 550.5,453.0 550.8,456.8 551.1,453.6 551.4,454.3 551.7,456.7 552.0,457.4 552.4,451.4 552.7,451.3 553.0,458.0 553.3,450.7 553.6,457.1 553.9,452.8 554.2,449.7 554.5,460.6 554.8,453.8 555.1,453.9 555.5,459.1 555.8,449.3 556.1,459.8 556.4,458.4 556.7,450.8 557.0,449.1 557.3,455.1 557.6,450.3 557.9,451.7 558.2,456.1 558.6,457.0 558.9,458.7 559.2,447.8 559.5,446.7 559.8,450.5 560.1,453.4 560.4,454.8 560.7,445.4 561.0,457.3 561.3,452.7 561.7,444.4 562.0,452.5 562.3,446.8 562.6,457.9 562.9,447.3 563.2,445.3 563.5,451.9 563.8,443.9 564.1,456.9 564.4,452.0 564.8,445.4 565.1,445.8 565.4,455.5 565.7,444.8 566.0,448.8 566.3,443.5 566.6,456.0 566.9,454.7 567.2,450.5 567.5,454.7 567.9,453.1 568.2,454.3 568.5,455.7 568.8,452.4 569.1,449.2 569.4,445.2 569.7,459.9 570.0,446.3 570.3,453.0 570.6,451.0 571.0,448.8 571.3,453.7 571.6,460.6 571.9,442.6 572.2,454.5 572.5,452.7 572.8,453.4 573.1,453.5 573.4,449.7 573.7,456.2 574.1,455.8 574.4,457.5 574.7,462.8 575.0,443.7 575.3,446.4 575.6,456.9 575.9,454.1 576.2,460.1 576.5,451.0 576.8,454.0 577.2,451.2 577.5,457.7 577.8,460.1 578.1,449.6 578.4,465.3 578.7,460.5 579.0,456.9 579.3,456.4 579.6,463.0 579.9,451.9 580.3,455.6 580.6,466.2 580.9,453.5 581.2,456.6 581.5,466.2 581.8,456.2 582.1,468.4 582.4,457.2 582.7,464.3 583.0,464.5 583.4,453.2 583.7,467.5 584.0,460.4 584.3,461.5 584.6,450.7 584.9,459.2 585.2,464.1 585.5,452.7 585.8,452.6 586.1,451.9 586.5,452.0 586.8,451.6 587.1,460.4 587.4,446.9 587.7,458.7 588.0,453.8 588.3,448.0 588.6,452.7 588.9,462.7 589.2,445.7 589.6,452.9 589.9,455.2 590.2,449.8 590.5,444.8 590.8,459.6 591.1,441.6 591.4,441.8 591.7,444.5 592.0,452.3 592.3,446.4 592.7,447.8 593.0,442.1 593.3,444.5 593.6,448.5 593.9,449.8 594.2,435.8 594.5,440.6 594.8,434.2 595.1,429.2 595.4,448.5 595.8,447.2 596.1,441.5 596.4,437.7 596.7,440.7 597.0,439.8 597.3,435.9 597.6,437.4 597.9,453.9 598.2,455.1 598.5,455.4 598.9,447.5 599.2,453.4 599.5,453.6 599.8,450.0 600.1,454.4 600.4,454.2 600.7,467.3 601.0,457.7 601.3,458.3 601.6,454.5 602.0,453.7 602.3,453.0 602.6,459.0 602.9,467.9 603.2,461.0 603.5,467.4 603.8,461.0 604.1,458.1 604.4,450.7 604.7,461.7 605.1,457.2 605.4,461.6 605.7,464.1 606.0,461.7 606.3,456.3 606.6,464.1 606.9,469.5 607.2,457.9 607.5,464.9 607.8,469.4 608.2,456.7 608.5,462.4 608.8,454.5 609.1,465.3 609.4,457.1 609.7,468.7 610.0,453.6 610.3,456.9 610.6,452.8 610.9,452.2 611.3,462.8 611.6,452.2 611.9,461.0 612.2,457.2 612.5,452.6 612.8,459.3 613.1,453.3 613.4,460.7 613.7,450.6 614.0,453.7 614.4,456.6 614.7,457.2 615.0,449.2 615.3,455.5 615.6,454.6 615.9,460.0 616.2,453.5 616.5,454.3 616.8,455.7 617.1,461.2 617.5,455.3 617.8,455.4 618.1,463.4 618.4,464.8 618.7,465.1 619.0,460.0 619.3,457.4 619.6,460.8 619.9,465.9 620.2,463.7 620.6,466.6 620.9,467.1 621.2,460.2 621.5,460.5 621.8,463.3 622.1,461.4 622.4,460.5 622.7,470.7 623.0,458.7 623.3,459.8 623.7,470.8 624.0,459.4 624.3,464.7 624.6,464.7 624.9,464.0 625.2,459.1 625.5,461.6 625.8,459.4 626.1,462.5 626.4,468.0 626.8,455.5 627.1,461.4 627.4,461.6 627.7,461.0 628.0,469.2 628.3,463.6 628.6,467.7 628.9,459.1 629.2,459.3 629.5,459.6 629.9,469.0 630.2,451.4 630.5,464.9 630.8,459.6 631.1,465.5 631.4,457.0 631.7,451.6 632.0,457.7 632.3,465.8 632.6,456.3 633.0,456.8 633.3,454.9 633.6,465.1 633.9,456.5 634.2,460.6 634.5,448.2 634.8,463.4 635.1,446.5 635.4,452.6 635.7,449.3 636.1,440.4 636.4,450.4 636.7,452.7 637.0,458.1 637.3,457.0 637.6,459.0 637.9,449.7 638.2,461.5 638.5,464.5 638.8,450.9 639.2,454.8 639.5,452.0 639.8,463.1 640.1,461.4 640.4,459.7 640.7,455.7 641.0,462.1 641.3,460.4 641.6,455.9 641.9,462.7 642.3,457.0 642.6,466.9 642.9,465.2 643.2,457.6 643.5,465.4 643.8,462.6 644.1,458.4 644.4,457.4 644.7,456.4 645.0,465.1 645.4,470.2 645.7,459.9 646.0,464.6 646.3,465.9 646.6,468.6 646.9,466.8 647.2,471.5 647.5,469.1 647.8,460.6 648.1,467.4 648.5,464.3 648.8,465.6 649.1,469.0 649.4,464.2 649.7,470.9 650.0,461.6 650.3,463.5 650.6,468.2 650.9,469.7 651.2,468.0 651.6,472.0 651.9,460.9 652.2,471.8 652.5,473.7 652.8,473.1 653.1,469.0 653.4,465.1 653.7,468.3 654.0,465.4 654.3,462.3 654.7,465.1 655.0,462.2 655.3,459.8 655.6,463.2 655.9,462.2 656.2,464.3 656.5,463.4 656.8,464.2 657.1,468.2 657.4,463.5 657.8,464.6 658.1,456.0 658.4,459.9 658.7,465.1 659.0,459.7 659.3,458.0 659.6,454.9 659.9,465.5 660.2,458.5 660.5,462.4 660.9,466.9 661.2,464.0 661.5,460.8 661.8,466.3 662.1,465.1 662.4,458.3 662.7,462.0 663.0,458.9 663.3,456.6 663.6,463.5 664.0,458.0 664.3,458.3 664.6,459.3 664.9,462.7 665.2,459.6 665.5,462.6 665.8,459.3 666.1,455.8 666.4,464.9 666.7,463.5 667.1,460.3 667.4,462.0 667.7,464.5 668.0,458.7 668.3,458.3 668.6,469.8 668.9,457.5 669.2,469.6 669.5,460.8 669.8,463.0 670.2,463.6 670.5,468.2 670.8,468.6 671.1,457.4 671.4,469.7 671.7,462.6 672.0,460.3 672.3,456.7 672.6,469.0 672.9,464.7 673.3,462.9 673.6,455.3 673.9,468.2 674.2,462.6 674.5,456.6 674.8,468.2 675.1,456.1 675.4,460.6 675.7,470.4 676.0,459.5 676.4,464.9 676.7,469.9 677.0,456.0 677.3,462.7 677.6,456.2 677.9,467.9 678.2,457.6 678.5,459.1 678.8,460.3 679.1,469.9 679.5,454.3 679.8,461.3 680.1,459.1 680.4,457.6 680.7,455.9 681.0,460.1 681.3,462.3 681.6,462.5 681.9,453.3 682.2,461.1 682.6,454.8 682.9,460.7 683.2,459.5 683.5,467.4 683.8,458.2 684.1,462.4 684.4,462.9 684.7,468.1 685.0,458.0 685.3,465.6 685.7,454.7 686.0,469.6 686.3,461.1 686.6,457.3 686.9,462.7 687.2,456.3 687.5,453.9 687.8,455.4 688.1,454.5 688.4,461.5 688.8,464.0 689.1,460.8 689.4,463.1 689.7,469.2 690.0,460.2 690.3,454.3 690.6,463.5 690.9,457.9 691.2,460.6 691.5,464.6 691.9,465.0 692.2,456.4 692.5,462.7 692.8,461.4 693.1,469.3 693.4,459.3 693.7,469.5 694.0,456.6 694.3,464.8 694.6,455.7 695.0,463.1 695.3,464.5 695.6,457.5 695.9,463.6 696.2,454.1 696.5,467.9 696.8,447.6 697.1,461.2 697.4,460.7 697.7,453.8 698.1,454.7 698.4,464.0 698.7,458.1 699.0,460.1 699.3,468.8 699.6,463.5 699.9,462.1 700.2,463.4 700.5,455.7 700.8,470.2 701.2,458.3 701.5,470.7 701.8,460.1 702.1,460.2 702.4,464.0 702.7,459.1 703.0,459.7 703.3,466.5 703.6,466.6 703.9,460.6 704.3,456.4 704.6,459.0 704.9,462.3 705.2,464.4 705.5,459.2 705.8,470.5 706.1,457.5 706.4,458.9 706.7,465.9 707.0,465.8 707.4,460.9 707.7,468.6 708.0,455.1 708.3,463.8 708.6,463.5 708.9,470.7 709.2,462.1 709.5,464.3 709.8,466.1 710.1,462.1 710.5,465.4 710.8,468.4 711.1,465.1 711.4,464.4 711.7,471.1 712.0,465.2 712.3,458.0 712.6,461.7 712.9,464.2 713.2,460.9 713.6,462.8 713.9,470.0 714.2,468.8 714.5,466.9 714.8,463.6 715.1,463.9 715.4,465.6 715.7,465.0 716.0,459.5 716.3,468.1 716.7,458.9 717.0,463.5 717.3,461.6 717.6,457.1 717.9,467.3 718.2,463.4 718.5,457.0 718.8,463.4 719.1,455.8 719.4,472.2 719.8,466.9 720.1,460.6 720.4,468.1 720.7,458.3 721.0,459.0 721.3,463.5 721.6,466.4 721.9,469.5 722.2,462.5 722.5,470.6 722.9,469.8 723.2,458.9 723.5,463.1 723.8,458.7 724.1,460.9 724.4,469.5 724.7,469.7 725.0,462.7 725.3,461.4 725.6,466.4 726.0,459.7 726.3,456.7 726.6,458.6 726.9,466.4 727.2,465.6 727.5,467.5 727.8,457.5 728.1,471.5 728.4,468.7 728.7,465.4 729.1,473.5 729.4,462.6 729.7,461.8 730.0,458.9 730.3,461.4 730.6,465.9 730.9,469.2 731.2,472.7 731.5,464.1 731.8,461.6 732.2,463.9 732.5,463.6 732.8,463.5 733.1,463.9 733.4,461.6 733.7,466.1 734.0,463.7 734.3,465.7 734.6,459.5 734.9,467.5 735.3,469.8 735.6,470.2 735.9,464.3 736.2,461.5 736.5,460.9 736.8,461.7 737.1,464.4 737.4,466.1 737.7,470.9 738.0,460.6 738.4,464.7 738.7,464.7 739.0,471.9 739.3,466.7 739.6,467.1 739.9,466.7 740.2,467.5 740.5,467.5 740.8,463.3 741.1,467.5 741.5,464.3 741.8,469.4 742.1,465.3 742.4,470.2 742.7,462.4 743.0,468.3 743.3,470.4 743.6,464.9 743.9,461.5 744.2,468.9 744.6,464.2 744.9,470.0 745.2,463.8 745.5,470.6 745.8,466.9 746.1,467.8 746.4,466.7 746.7,464.0 747.0,463.9 747.3,467.8 747.7,468.9 748.0,463.3 748.3,473.6 748.6,459.4 748.9,470.4 749.2,464.5 749.5,465.9 749.8,460.6 750.1,472.8 750.4,460.1 750.8,463.8 751.1,460.4 751.4,470.4 751.7,457.0 752.0,461.4 752.3,465.5 752.6,461.2 752.9,461.6 753.2,457.9 753.5,464.8 753.9,457.9 754.2,467.9 754.5,461.9 754.8,472.1 755.1,465.6 755.4,460.2 755.7,461.9 756.0,458.7 756.3,464.3 756.6,467.4 757.0,468.6 757.3,462.3 757.6,457.6 757.9,463.4 758.2,472.5 758.5,465.3 758.8,463.5 759.1,461.7 759.4,466.7 759.7,459.0 760.1,470.9 760.4,461.1 760.7,459.5 761.0,461.0 761.3,463.6 761.6,469.2 761.9,461.2 762.2,463.7 762.5,466.8 762.8,472.1 763.2,458.4 763.5,471.8 763.8,467.7 764.1,466.6 764.4,460.3 764.7,459.8 765.0,459.4 765.3,469.1 765.6,465.5 765.9,469.8 766.3,464.5 766.6,464.2 766.9,457.7 767.2,462.2 767.5,462.6 767.8,462.6 768.1,465.2 768.4,460.3 768.7,470.5 769.0,457.6 769.4,460.4 769.7,456.0 770.0,457.5 770.3,467.6 770.6,467.9 770.9,463.7 771.2,469.0 771.5,467.9 771.8,461.8 772.1,464.5 772.5,466.5 772.8,462.4 773.1,466.4 773.4,467.2 773.7,470.6 774.0,466.5 774.3,469.7 774.6,459.0 774.9,463.0 775.2,464.0 775.6,465.4 775.9,464.6 776.2,465.4 776.5,464.7 776.8,457.5 777.1,460.5 777.4,463.0 777.7,464.6 778.0,459.6 778.3,463.2 778.7,460.2 779.0,457.2 779.3,460.4 779.6,459.6 779.9,467.5 780.2,469.9 780.5,466.2 780.8,462.3 781.1,460.7 781.4,455.8 781.8,460.7 782.1,470.6 782.4,468.6 782.7,464.1 783.0,461.9 783.3,463.0 783.6,464.9 783.9,462.8 784.2,464.8 784.5,459.2 784.9,462.9 785.2,461.0 785.5,467.7 785.8,457.2 786.1,468.9 786.4,462.8 786.7,461.1 787.0,463.5 787.3,464.1 787.6,462.7 788.0,465.7 788.3,461.5 788.6,457.0 788.9,467.1 789.2,464.3 789.5,471.3 789.8,466.2 790.1,469.7 790.4,462.2 790.7,467.2 791.1,469.4 791.4,461.1 791.7,465.1 792.0,459.5 792.3,468.2 792.6,467.9 792.9,462.2 793.2,467.7 793.5,469.6 793.8,469.2 794.2,464.2 794.5,464.2 794.8,462.9 795.1,462.5 795.4,468.1 795.7,467.3 796.0,471.6 796.3,468.3 796.6,466.5 796.9,463.1 797.3,472.6 797.6,468.1 797.9,467.4 798.2,464.1 798.5,463.9 798.8,469.4 799.1,463.9 799.4,469.1 799.7,469.3 800.0,465.7 800.4,461.3 800.7,468.3 801.0,471.8 801.3,463.8 801.6,462.2 801.9,470.6 802.2,467.1 802.5,464.2 802.8,471.0 803.1,465.3 803.5,468.0 803.8,464.7 804.1,463.4 804.4,467.0 804.7,462.8 805.0,459.0 805.3,464.0 805.6,472.0 805.9,471.9 806.2,471.9 806.6,475.6 806.9,468.9 807.2,465.2 807.5,470.8 807.8,480.7 808.1,472.0 808.4,465.0 808.7,468.5 809.0,462.7 809.3,466.0 809.7,470.5 810.0,465.2 810.3,463.3 810.6,466.9 810.9,469.1 811.2,464.8 811.5,460.8 811.8,459.3 812.1,459.9 812.4,469.2 812.8,464.5 813.1,466.7 813.4,468.9 813.7,465.7 814.0,466.3 814.3,462.3 814.6,457.8 814.9,466.5 815.2,463.5 815.5,466.1 815.9,459.4 816.2,463.0 816.5,471.4 816.8,460.0 817.1,463.5 817.4,468.2 817.7,462.0 818.0,463.3 818.3,465.8 818.6,460.8 819.0,467.5 819.3,461.9 819.6,460.7 819.9,463.8 820.2,461.0 820.5,459.7 820.8,467.8 821.1,465.5 821.4,461.9 821.7,464.5 822.1,464.5 822.4,463.4 822.7,461.2 823.0,461.1 823.3,462.3 823.6,462.8 823.9,462.2 824.2,458.6 824.5,460.7 824.8,463.0 825.2,457.3 825.5,461.3 825.8,464.6 826.1,462.3 826.4,460.6 826.7,461.8 827.0,460.1 827.3,466.3 827.6,460.8 827.9,455.3 828.3,457.5 828.6,464.0 828.9,463.8 829.2,460.9 829.5,457.5 829.8,462.6 830.1,459.8 830.4,460.6 830.7,463.7 831.0,460.3 831.4,465.3 831.7,460.7 832.0,462.2 832.3,463.3 832.6,471.0 832.9,471.8 833.2,469.0 833.5,461.4 833.8,465.1 834.1,469.3 834.5,469.0 834.8,457.8 835.1,465.3 835.4,462.1 835.7,469.1 836.0,468.5 836.3,463.1 836.6,475.4 836.9,464.2 837.2,464.7 837.6,465.0 837.9,473.8 838.2,462.9 838.5,463.2 838.8,471.8 839.1,465.1 839.4,467.3 839.7,459.7 840.0,473.0 840.3,469.3 840.7,466.5 841.0,468.0 841.3,462.7 841.6,462.9 841.9,458.1 842.2,466.4 842.5,470.0 842.8,468.3 843.1,468.6 843.4,467.6 843.8,460.8 844.1,459.3 844.4,467.2 844.7,465.2 845.0,468.5 845.3,463.4 845.6,460.8 845.9,466.2 846.2,462.1 846.5,457.9 846.9,461.8 847.2,460.9 847.5,459.8 847.8,462.1 848.1,468.1 848.4,471.2 848.7,462.6 849.0,468.9 849.3,464.0 849.6,465.8 850.0,461.5 850.3,463.9 850.6,457.5 850.9,471.6 851.2,461.1 851.5,466.6 851.8,461.8 852.1,465.3 852.4,459.4 852.7,462.5 853.1,467.9 853.4,466.6 853.7,456.2 854.0,467.7 854.3,458.7 854.6,465.3 854.9,466.3 855.2,461.3 855.5,462.8 855.8,463.0 856.2,465.8 856.5,468.0 856.8,469.8 857.1,465.4 857.4,472.5 857.7,459.9 858.0,471.6 858.3,462.8 858.6,467.3 858.9,463.4 859.3,464.4 859.6,459.9 859.9,465.7 860.2,472.9 860.5,464.7 860.8,463.8 861.1,464.0 861.4,467.1 861.7,463.1 862.0,463.9 862.4,465.0 862.7,469.9 863.0,468.3 863.3,459.6 863.6,461.7 863.9,464.5 864.2,468.1 864.5,468.8 864.8,463.8 865.1,473.9 865.5,464.1 865.8,470.9 866.1,470.9 866.4,471.8 866.7,466.0 867.0,467.6 867.3,459.0 867.6,457.8 867.9,463.0 868.2,468.5 868.6,469.9 868.9,465.2 869.2,469.9 869.5,468.1 869.8,472.0 870.1,459.4 870.4,462.8 870.7,462.2 871.0,462.1 871.3,472.9 871.7,462.8 872.0,463.1 872.3,465.0 872.6,470.0 872.9,464.9 873.2,469.6 873.5,468.9 873.8,464.3 874.1,458.1 874.4,463.4 874.8,462.5 875.1,473.4 875.4,464.6 875.7,463.2 876.0,468.8 876.3,467.7 876.6,464.2 876.9,471.7 877.2,471.1 877.5,468.8 877.9,465.2 878.2,464.7 878.5,460.8 878.8,469.5 879.1,469.7 879.4,465.2 879.7,468.8 880.0,465.1 880.3,463.2 880.6,471.3 881.0,468.0 881.3,468.0 881.6,471.8 881.9,469.6 882.2,473.2 882.5,471.7 882.8,473.7 883.1,470.4 883.4,463.1 883.7,474.3 884.1,464.5 884.4,473.4 884.7,470.9 885.0,465.7 885.3,470.3 885.6,472.9 885.9,466.7 886.2,470.3 886.5,467.7 886.8,466.9 887.2,468.1 887.5,474.3 887.8,472.4 888.1,470.1 888.4,469.9 888.7,470.6 889.0,471.1 889.3,470.8 889.6,464.4 889.9,473.2 890.3,467.3 890.6,472.6 890.9,466.3 891.2,469.7 891.5,470.0 891.8,468.2 892.1,472.1 892.4,469.3 892.7,469.4 893.0,467.0 893.4,469.4 893.7,466.7 894.0,470.5 894.3,474.9 894.6,473.7 894.9,471.8 895.2,465.7 895.5,473.9 895.8,473.5 896.1,477.6 896.5,462.7 896.8,470.4 897.1,469.2 897.4,474.2 897.7,466.7 898.0,469.0 898.3,478.4 898.6,474.0 898.9,463.5 899.2,470.5 899.6,475.2 899.9,468.2 900.2,472.6 900.5,470.8 900.8,465.3 901.1,468.2 901.4,474.5 901.7,474.8 902.0,468.4 902.3,474.6 902.7,468.0 903.0,471.4 903.3,470.5 903.6,465.9 903.9,471.7 904.2,469.1 904.5,467.4 904.8,467.5 905.1,467.4 905.4,467.0 905.8,467.9 906.1,461.6 906.4,474.0 906.7,470.9 907.0,471.6 907.3,469.6 907.6,470.8 907.9,469.7 908.2,466.4 908.5,465.0 908.9,470.9 909.2,474.5 909.5,471.6 909.8,476.8 910.1,465.3 910.4,469.7 910.7,468.2 911.0,475.4 911.3,477.4 911.6,468.7 912.0,473.6 912.3,469.8 912.6,466.7 912.9,470.3 913.2,466.6 913.5,476.8 913.8,473.1 914.1,475.4 914.4,472.2 914.7,461.2 915.1,474.0 915.4,471.2 915.7,461.1 916.0,471.2 916.3,474.9 916.6,477.6 916.9,466.6 917.2,474.0 917.5,472.2 917.8,470.2 918.2,469.7 918.5,473.0 918.8,473.3 919.1,473.5 919.4,469.2 919.7,465.5 920.0,476.4 920.3,476.2 920.6,468.5 920.9,470.8 921.3,474.3 921.6,463.7 921.9,473.0 922.2,481.0 922.5,472.1 922.8,468.0 923.1,479.7 923.4,471.0 923.7,471.9 924.0,469.2 924.4,471.8 924.7,463.5 925.0,465.4 925.3,464.8 925.6,474.9 925.9,470.6 926.2,476.1 926.5,462.4 926.8,468.4 927.1,477.3 927.5,467.6 927.8,463.1 928.1,467.8 928.4,469.6 928.7,471.0 929.0,476.8 929.3,477.0 929.6,477.9 929.9,473.7 930.2,468.9 930.6,468.9 930.9,464.7 931.2,476.9 931.5,476.7 931.8,471.6 932.1,467.3 932.4,474.2 932.7,473.4 933.0,471.9 933.3,466.2 933.7,472.3 934.0,468.8 934.3,474.6 934.6,473.9 934.9,473.3 935.2,469.5 935.5,478.1 935.8,474.7 936.1,477.0 936.4,475.0 936.8,474.3 937.1,473.1 937.4,466.7 937.7,463.6 938.0,467.3 938.3,474.1 938.6,475.5 938.9,472.3 939.2,471.9 939.5,479.3 939.9,469.8 940.2,463.9 940.5,464.8 940.8,470.2 941.1,474.6 941.4,474.7 941.7,470.6 942.0,475.1 942.3,471.4 942.6,468.6 943.0,470.0 943.3,474.8 943.6,475.8 943.9,467.0 944.2,467.4 944.5,472.2 944.8,480.8 945.1,466.8 945.4,466.4 945.7,473.5 946.1,473.9 946.4,469.2 946.7,471.7 947.0,473.8 947.3,464.4 947.6,471.7 947.9,474.4 948.2,475.7 948.5,476.8 948.8,471.6 949.2,465.8 949.5,477.4 949.8,475.2 950.1,469.3 950.4,476.3 950.7,476.2 951.0,471.4 951.3,462.4 951.6,470.0 951.9,468.9 952.3,468.5 952.6,471.7 952.9,467.6 953.2,473.6 953.5,479.9 953.8,467.3 954.1,476.4 954.4,470.0 954.7,474.4 955.0,471.6 955.4,477.4 955.7,469.3 956.0,475.2 956.3,469.1 956.6,473.1 956.9,472.2 957.2,476.7 957.5,466.0 957.8,466.8 958.1,477.8 958.5,473.8 958.8,479.0 959.1,468.1 959.4,473.1 959.7,474.8 960.0,479.3 960.3,472.1 960.6,470.6 960.9,475.2 961.2,472.0 961.6,469.4 961.9,475.4 962.2,464.9 962.5,468.5 962.8,477.9 963.1,470.5 963.4,471.2 963.7,473.9 964.0,476.9 964.3,474.6 964.7,468.7 965.0,470.4 965.3,476.7 965.6,472.1 965.9,470.1 966.2,475.9 966.5,477.1 966.8,480.9 967.1,468.5 967.4,470.0 967.8,470.0 968.1,474.0 968.4,470.8 968.7,476.9 969.0,476.3 969.3,470.3 969.6,471.7 969.9,474.9 970.2,473.5 970.5,468.9 970.9,478.4 971.2,475.0 971.5,471.0 971.8,473.6 972.1,468.7 972.4,468.2 972.7,471.8 973.0,474.3 973.3,473.3 973.6,470.0 974.0,467.8 974.3,466.6 974.6,478.8 974.9,474.3 975.2,470.0 975.5,477.4 975.8,475.0 976.1,471.4 976.4,470.7 976.7,477.3 977.1,474.2 977.4,479.2 977.7,474.3 978.0,470.8 978.3,470.7 978.6,470.3 978.9,473.9 979.2,474.0 979.5,475.3 979.8,474.7 980.2,469.1 980.5,472.2 980.8,469.5 981.1,474.9 981.4,468.1 981.7,470.8 982.0,469.8 982.3,470.7 982.6,472.1 982.9,478.9 983.3,472.1 983.6,467.6 983.9,471.9 984.2,476.0 984.5,475.2 984.8,474.0 985.1,480.6 985.4,477.4 985.7,473.5 986.0,477.8 986.4,468.0 986.7,472.5 987.0,469.8 987.3,473.8 987.6,479.3 987.9,471.2 988.2,479.2 988.5,469.2 988.8,478.6 989.1,466.6 989.5,469.9 989.8,477.0 990.1,472.8 990.4,473.8 990.7,473.1 991.0,473.9 991.3,472.5 991.6,469.4 991.9,472.1 992.2,473.7 992.6,469.8 992.9,475.1 993.2,480.0 993.5,466.8 993.8,471.2 994.1,472.2 994.4,473.3 994.7,473.6 995.0,470.5 995.3,473.1 995.7,473.3 996.0,472.9 996.3,479.2 996.6,473.8 996.9,467.6 997.2,467.2 997.5,475.6 997.8,472.0 998.1,470.9 998.4,468.0 998.8,472.1 999.1,473.0 999.4,470.7 999.7,472.0 1000.0,476.8 1000.3,476.5 1000.6,475.5 1000.9,472.7 1001.2,468.1 1001.5,476.5 1001.9,479.2 1002.2,478.4 1002.5,477.9 1002.8,474.5 1003.1,474.9 1003.4,473.4 1003.7,478.3 1004.0,472.4 1004.3,481.8 1004.6,476.5 1005.0,472.2 1005.3,473.4 1005.6,467.1 1005.9,470.5 1006.2,472.3 1006.5,483.2 1006.8,470.3 1007.1,477.1 1007.4,473.8 1007.7,472.3 1008.1,476.0 1008.4,465.5 1008.7,477.2 1009.0,481.2 1009.3,474.7 1009.6,473.2 1009.9,474.1 1010.2,476.1 1010.5,471.6 1010.8,473.9 1011.2,475.4 1011.5,472.1 1011.8,475.0 1012.1,474.8 1012.4,476.2 1012.7,469.6 1013.0,471.4 1013.3,471.8 1013.6,478.0 1013.9,474.4 1014.3,467.1 1014.6,468.5 1014.9,480.8 1015.2,474.7 1015.5,468.5 1015.8,469.9 1016.1,473.9 1016.4,478.8 1016.7,479.5 1017.0,472.0 1017.4,472.2 1017.7,480.7 1018.0,469.7 1018.3,479.3 1018.6,474.6 1018.9,473.7 1019.2,478.1 1019.5,475.1 1019.8,470.2 1020.1,467.6 1020.5,473.4 1020.8,475.2 1021.1,478.4 1021.4,478.3 1021.7,475.6 1022.0,478.9 1022.3,476.2 1022.6,474.1 1022.9,474.9 1023.2,474.7 1023.6,470.9 1023.9,472.8 1024.2,473.7 1024.5,471.6 1024.8,467.9 1025.1,468.0 1025.4,475.1 1025.7,475.1 1026.0,473.6 1026.3,469.0 1026.7,476.3 1027.0,471.8 1027.3,465.7 1027.6,478.8 1027.9,467.8 1028.2,481.2 1028.5,475.1 1028.8,471.6 1029.1,464.8 1029.4,470.7 1029.8,478.4 1030.1,478.0 1030.4,474.1 1030.7,467.1 1031.0,471.8 1031.3,472.2 1031.6,474.8 1031.9,472.7 1032.2,474.3 1032.5,467.5 1032.9,470.9 1033.2,478.1 1033.5,468.0 1033.8,476.3 1034.1,481.1 1034.4,475.3 1034.7,468.3 1035.0,477.3 1035.3,466.7 1035.6,474.2 1036.0,471.7 1036.3,477.3 1036.6,477.1 1036.9,473.7 1037.2,479.2 1037.5,476.4 1037.8,471.4 1038.1,469.7 1038.4,471.7 1038.7,474.4 1039.1,472.6 1039.4,471.4 1039.7,467.7 1040.0,472.5 1040.3,472.6 1040.6,476.3 1040.9,471.3 1041.2,467.8 1041.5,469.4 1041.8,472.8 1042.2,473.8 1042.5,475.4 1042.8,471.7 1043.1,474.7 1043.4,473.4 1043.7,478.5 1044.0,472.8 1044.3,473.5 1044.6,474.9 1044.9,477.0 1045.3,470.2 1045.6,471.6 1045.9,472.3 1046.2,466.4 1046.5,477.3 1046.8,476.6 1047.1,473.3 1047.4,477.3 1047.7,479.7 1048.0,478.2 1048.4,476.2 1048.7,469.1 1049.0,478.2 1049.3,474.7 1049.6,469.8 1049.9,473.7 1050.2,475.8 1050.5,476.5 1050.8,474.1 1051.1,472.1 1051.5,475.9 1051.8,471.4 1052.1,473.5 1052.4,476.0 1052.7,469.5 1053.0,474.9 1053.3,468.1 1053.6,471.2 1053.9,470.3 1054.2,473.6 1054.6,476.0 1054.9,473.8 1055.2,476.6 1055.5,474.3 1055.8,473.5 1056.1,475.4 1056.4,473.4 1056.7,474.5 1057.0,477.1 1057.3,472.6 1057.7,477.4 1058.0,471.2 1058.3,473.7 1058.6,469.6 1058.9,472.9 1059.2,478.6 1059.5,475.3 1059.8,477.8 1060.1,470.5 1060.4,471.8 1060.8,475.7 1061.1,476.7 1061.4,476.7 1061.7,470.2 1062.0,475.9 1062.3,474.4 1062.6,475.0 1062.9,475.9 1063.2,474.0 1063.5,470.4 1063.9,472.0 1064.2,471.1 1064.5,471.5 1064.8,474.5 1065.1,478.1 1065.4,473.1 1065.7,473.0 1066.0,472.1 1066.3,470.7 1066.6,475.2 1067.0,473.9 1067.3,474.5 1067.6,472.8 1067.9,476.3 1068.2,472.3 1068.5,476.5 1068.8,473.6 1069.1,477.1 1069.4,473.2 1069.7,476.3 1070.1,476.3 1070.4,475.2 1070.7,479.1 1071.0,475.8 1071.3,473.4 1071.6,477.0 1071.9,473.5 1072.2,474.1 1072.5,475.2 1072.8,475.5 1073.2,479.0 1073.5,470.9 1073.8,474.3 1074.1,477.4 1074.4,474.3 1074.7,475.4 1075.0,478.2 1075.3,471.6 1075.6,474.5 1075.9,476.2 1076.3,472.8 1076.6,470.0 1076.9,471.7 1077.2,474.5 1077.5,474.4 1077.8,478.3 1078.1,477.0 1078.4,469.9 1078.7,476.2 1079.0,475.8 1079.4,477.5 1079.7,473.0 1080.0,471.9 1080.3,473.6 1080.6,477.0 1080.9,474.6 1081.2,477.3 1081.5,474.9 1081.8,471.3 1082.1,470.1 1082.5,477.4 1082.8,468.6 1083.1,471.6 1083.4,471.6 1083.7,469.9 1084.0,470.7 1084.3,472.2 1084.6,478.3 1084.9,471.8 1085.2,470.5 1085.6,472.2 1085.9,474.3 1086.2,469.5 1086.5,470.5 1086.8,466.8 1087.1,473.3 1087.4,473.2 1087.7,475.4 1088.0,467.9 1088.3,477.1 1088.7,473.4 1089.0,470.2 1089.3,469.8 1089.6,469.9 1089.9,467.3 1090.2,472.8 1090.5,468.9 1090.8,468.6 1091.1,472.2 1091.4,471.1 1091.8,469.1 1092.1,470.2 1092.4,469.5 1092.7,474.7 1093.0,473.8 1093.3,468.9 1093.6,470.9 1093.9,474.9 1094.2,470.3 1094.5,476.2 1094.9,472.4 1095.2,473.1 1095.5,465.3 1095.8,473.7 1096.1,472.3 1096.4,473.0 1096.7,472.8 1097.0,473.0 1097.3,470.0 1097.6,474.1 1098.0,471.7 1098.3,468.6 1098.6,468.7 1098.9,472.1 1099.2,472.7 1099.5,465.3 1099.8,465.7 1100.1,474.9 1100.4,471.8 1100.7,467.4 1101.1,471.2 1101.4,470.2 1101.7,473.6 1102.0,476.2 1102.3,476.8 1102.6,469.1 1102.9,475.8 1103.2,468.6 1103.5,473.1 1103.8,472.8 1104.2,474.2 1104.5,470.0 1104.8,476.4 1105.1,472.2 1105.4,472.4 1105.7,471.7 1106.0,469.4 1106.3,474.7 1106.6,473.6 1106.9,474.0 1107.3,478.3 1107.6,470.1 1107.9,471.9 1108.2,472.8 1108.5,475.4 1108.8,472.4 1109.1,475.7 1109.4,474.4 1109.7,467.7 1110.0,471.0 1110.4,467.0 1110.7,472.3 1111.0,471.9 1111.3,475.0 1111.6,473.8 1111.9,473.1 1112.2,477.2 1112.5,475.2 1112.8,469.6 1113.1,471.3 1113.5,474.5 1113.8,478.7 1114.1,472.9 1114.4,473.0 1114.7,474.3 1115.0,475.9 1115.3,473.3 1115.6,474.5 1115.9,472.3 1116.2,471.9 1116.6,471.2 1116.9,475.6 1117.2,472.0 1117.5,475.3 1117.8,474.9 1118.1,476.6 1118.4,470.8 1118.7,470.0 1119.0,473.2 1119.3,476.1 1119.7,478.3 1120.0,477.8 1120.3,474.9 1120.6,472.6 1120.9,475.3 1121.2,467.3 1121.5,476.5 1121.8,473.8 1122.1,475.6 1122.4,470.8 1122.8,470.6 1123.1,471.9 1123.4,473.7 1123.7,474.9 1124.0,472.8 1124.3,474.9 1124.6,475.9 1124.9,470.5 1125.2,473.6 1125.5,469.4 1125.9,472.4 1126.2,476.6 1126.5,471.9 1126.8,479.3 1127.1,475.4 1127.4,476.6 1127.7,474.3 1128.0,476.5 1128.3,477.1 1128.6,474.3 1129.0,472.5 1129.3,472.5 1129.6,479.5 1129.9,473.6 1130.2,472.8 1130.5,472.1 1130.8,469.4 1131.1,472.7 1131.4,475.0 1131.7,472.8 1132.1,472.0 1132.4,475.3 1132.7,475.5 1133.0,473.0 1133.3,475.1 1133.6,471.5 1133.9,476.6 1134.2,471.5 1134.5,473.3 1134.8,474.6 1135.2,473.1 1135.5,471.1 1135.8,480.0 1136.1,478.5 1136.4,469.6 1136.7,474.7 1137.0,470.9 1137.3,475.2 1137.6,470.8 1137.9,476.0 1138.3,475.8 1138.6,479.0 1138.9,477.7 1139.2,473.2 1139.5,477.0 1139.8,473.2 1140.1,474.2 1140.4,473.1 1140.7,469.8 1141.0,476.1 1141.4,469.1 1141.7,473.9 1142.0,475.9 1142.3,474.8 1142.6,470.4 1142.9,472.8 1143.2,476.4 1143.5,477.5 1143.8,478.8 1144.1,469.8 1144.5,475.8 1144.8,473.4 1145.1,476.6 1145.4,470.2 1145.7,474.3 1146.0,476.5 1146.3,473.0 1146.6,473.7 1146.9,472.2"/>
<g stroke="#505050">
<line x1="374.0" y1="229.0" x2="374.0" y2="888.1" stroke-width="2.5"/>
<line x1="396.5" y1="280.0" x2="396.5" y2="888.1" stroke-width="2.7"/>
<line x1="423.7" y1="332.6" x2="423.7" y2="888.1" stroke-width="3.1"/>
<line x1="440.4" y1="361.4" x2="440.4" y2="888.1" stroke-width="2.4"/>
<line x1="463.3" y1="398.7" x2="463.3" y2="888.1" stroke-width="2.4"/>
<line x1="484.6" y1="430.0" x2="484.6" y2="888.1" stroke-width="2.5"/>
<line x1="499.0" y1="460.0" x2="499.0" y2="888.1" stroke-width="2.6"/>
<line x1="527.9" y1="488.2" x2="527.9" y2="888.1" stroke-width="3.2"/>
<line x1="540.4" y1="502.7" x2="540.4" y2="888.1" stroke-width="2.5"/>
<line x1="558.3" y1="522.4" x2="558.3" y2="888.1" stroke-width="3.0"/>
<line x1="608.1" y1="571.2" x2="608.1" y2="888.1" stroke-width="3.2"/>
<line x1="644.5" y1="603.4" x2="644.5" y2="888.1" stroke-width="2.7"/>
<line x1="686.0" y1="634.8" x2="686.0" y2="888.1" stroke-width="2.4"/>
<line x1="742.5" y1="672.2" x2="742.5" y2="888.1" stroke-width="2.9"/>
<line x1="798.0" y1="703.3" x2="798.0" y2="888.1" stroke-width="2.4"/>
<line x1="875.5" y1="741.4" x2="875.5" y2="888.1" stroke-width="2.4"/>
<line x1="947.0" y1="770.2" x2="947.0" y2="888.1" stroke-width="3.0"/>
<line x1="1078.7" y1="812.6" x2="1078.7" y2="888.1" stroke-width="2.1"/>
</g>
<g stroke="#000" fill="none">
<path d="M121.75 24.60 H1150.50 M121.75 888.45 H1150.50" stroke-width="4.7"/>
<path d="M124.40 22.25 V896.90" stroke-width="5.3"/>
<path d="M1148.70 22.25 V905.80" stroke-width="5.0"/>
<path d="M270.64 888 V905.7 M416.99 888 V896.8 M563.33 888 V905.7 M709.67 888 V896.8 M856.01 888 V905.7 M1002.36 888 V896.8" stroke-width="4.7"/>
</g>
<g font-family="'Liberation Serif', serif" font-weight="bold" fill="#000">
<g font-size="55.5">
<text id="t20" transform="translate(255.4 961.2) scale(1.000 1.055)">20</text>
<text id="t40" transform="translate(549.1 961.2) scale(0.985 1.055)">40</text>
<text id="t60" transform="translate(841.8 961.2) scale(0.980 1.055)">60</text>
<text id="t80" transform="translate(1134.6 961.2) scale(0.990 1.055)">80</text>
<text id="xl" transform="translate(578.9 1049) scale(0.987 1.0)">2θ(°)</text>
<text id="yl" transform="translate(84.8 627) rotate(-90) scale(0.982 1.0)">Intensity/(a.u.)</text>
</g>
<g font-size="46.5">
<text id="l1" x="936.8" y="411">MSBC</text>
<text id="l2" transform="translate(859.8 726.8) scale(0.99 1)">nZVZ-MSBC</text>
</g></g>
</svg>
</body></html>
